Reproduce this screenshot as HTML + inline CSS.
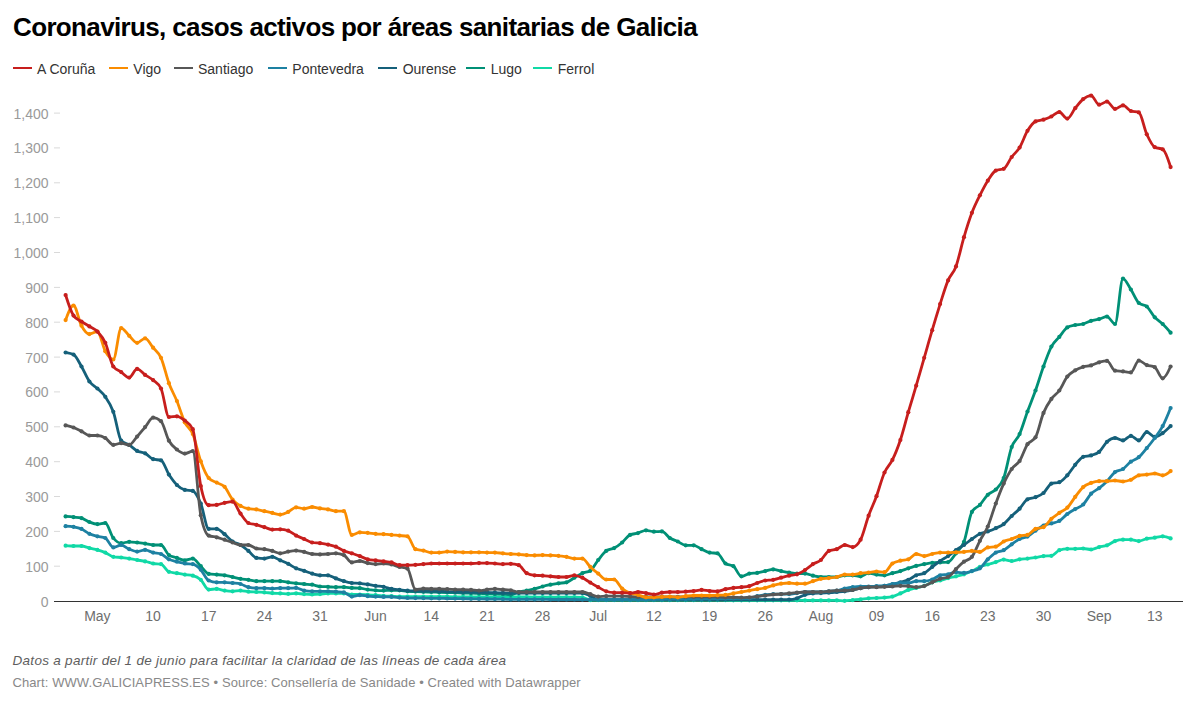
<!DOCTYPE html>
<html><head><meta charset="utf-8"><style>
html,body{margin:0;padding:0;background:#fff;}
body{width:1199px;height:709px;position:relative;overflow:hidden;font-family:"Liberation Sans",sans-serif;}
.title{position:absolute;left:13px;top:12px;font-size:26px;font-weight:bold;color:#000;letter-spacing:-0.64px;white-space:nowrap;line-height:30px;}
.lt{position:absolute;top:60.7px;font-size:14px;color:#333;white-space:nowrap;line-height:16px;}
.note{position:absolute;left:12.5px;top:653px;font-size:13.5px;font-style:italic;color:#5e5e5e;white-space:nowrap;line-height:16px;letter-spacing:0.29px;}
.src{position:absolute;left:12.5px;top:675.2px;font-size:13px;color:#888;white-space:nowrap;line-height:16px;letter-spacing:0.09px;}
svg{position:absolute;left:0;top:0;}
</style></head><body>
<div class="title">Coronavirus, casos activos por áreas sanitarias de Galicia</div>
<div style="position:absolute;left:12.5px;top:66.5px;width:19px;height:2.1px;background:#c71e1d"></div><div class="lt" style="left:37px">A Coruña</div><div style="position:absolute;left:109px;top:66.5px;width:19px;height:2.1px;background:#fa8c00"></div><div class="lt" style="left:133.3px">Vigo</div><div style="position:absolute;left:174px;top:66.5px;width:19px;height:2.1px;background:#575757"></div><div class="lt" style="left:198px">Santiago</div><div style="position:absolute;left:267.7px;top:66.5px;width:19px;height:2.1px;background:#1d81a2"></div><div class="lt" style="left:292.3px">Pontevedra</div><div style="position:absolute;left:377.7px;top:66.5px;width:19px;height:2.1px;background:#15607a"></div><div class="lt" style="left:402.7px">Ourense</div><div style="position:absolute;left:466px;top:66.5px;width:19px;height:2.1px;background:#009076"></div><div class="lt" style="left:490.7px">Lugo</div><div style="position:absolute;left:533.3px;top:66.5px;width:19px;height:2.1px;background:#10d9a6"></div><div class="lt" style="left:557.7px">Ferrol</div>
<svg width="1199" height="709" viewBox="0 0 1199 709">
<g font-family="Liberation Sans" font-size="14" fill="#9a9a9a"><text x="48.5" y="606.5" text-anchor="end">0</text><text x="48.5" y="571.6" text-anchor="end">100</text><text x="48.5" y="536.8" text-anchor="end">200</text><text x="48.5" y="501.9" text-anchor="end">300</text><text x="48.5" y="467.1" text-anchor="end">400</text><text x="48.5" y="432.2" text-anchor="end">500</text><text x="48.5" y="397.3" text-anchor="end">600</text><text x="48.5" y="362.5" text-anchor="end">700</text><text x="48.5" y="327.6" text-anchor="end">800</text><text x="48.5" y="292.8" text-anchor="end">900</text><text x="48.5" y="257.9" text-anchor="end">1,000</text><text x="48.5" y="223.0" text-anchor="end">1,100</text><text x="48.5" y="188.2" text-anchor="end">1,200</text><text x="48.5" y="153.3" text-anchor="end">1,300</text><text x="48.5" y="118.5" text-anchor="end">1,400</text></g>
<g stroke="#d9d9d9" stroke-width="1"><line x1="54" x2="60" y1="566.2" y2="566.2" /><line x1="54" x2="60" y1="531.4" y2="531.4" /><line x1="54" x2="60" y1="496.5" y2="496.5" /><line x1="54" x2="60" y1="461.7" y2="461.7" /><line x1="54" x2="60" y1="426.8" y2="426.8" /><line x1="54" x2="60" y1="391.9" y2="391.9" /><line x1="54" x2="60" y1="357.1" y2="357.1" /><line x1="54" x2="60" y1="322.2" y2="322.2" /><line x1="54" x2="60" y1="287.4" y2="287.4" /><line x1="54" x2="60" y1="252.5" y2="252.5" /><line x1="54" x2="60" y1="217.6" y2="217.6" /><line x1="54" x2="60" y1="182.8" y2="182.8" /><line x1="54" x2="60" y1="147.9" y2="147.9" /><line x1="54" x2="60" y1="113.1" y2="113.1" /></g>
<line x1="54" x2="1183" y1="601.5" y2="601.5" stroke="#333" stroke-width="1.2"/>
<g font-family="Liberation Sans" font-size="14" fill="#6e6e6e" text-anchor="middle"><text x="97.4" y="621">May</text><text x="153.1" y="621">10</text><text x="208.7" y="621">17</text><text x="264.4" y="621">24</text><text x="320.0" y="621">31</text><text x="375.6" y="621">Jun</text><text x="431.3" y="621">14</text><text x="487.0" y="621">21</text><text x="542.6" y="621">28</text><text x="598.2" y="621">Jul</text><text x="653.9" y="621">12</text><text x="709.6" y="621">19</text><text x="765.2" y="621">26</text><text x="820.9" y="621">Aug</text><text x="876.5" y="621">09</text><text x="932.2" y="621">16</text><text x="987.8" y="621">23</text><text x="1043.5" y="621">30</text><text x="1099.1" y="621">Sep</text><text x="1154.8" y="621">13</text></g>
<g fill="none" stroke-width="2.8" stroke-linejoin="round" stroke-linecap="round"><path d="M65.6,545.7C68.2,545.8,70.9,546.0,73.5,546.0C76.2,546.0,78.8,546.0,81.5,546.0C84.1,546.0,86.8,547.5,89.4,548.1C92.1,548.8,94.7,549.1,97.4,549.9C100.0,550.6,102.7,551.5,105.3,552.6C108.0,553.8,110.6,556.4,113.3,556.8C116.0,557.3,118.6,557.2,121.2,557.5C123.9,557.8,126.5,558.2,129.2,558.6C131.8,559.0,134.5,559.5,137.1,560.0C139.8,560.4,142.4,560.8,145.1,561.4C147.8,561.9,150.4,563.0,153.1,563.5C155.7,563.9,158.3,563.7,161.0,564.1C163.7,564.6,166.3,570.9,168.9,571.8C171.6,572.7,174.2,572.7,176.9,573.2C179.5,573.7,182.2,574.2,184.8,574.6C187.5,575.0,190.2,575.0,192.8,575.7C195.5,576.3,198.1,577.5,200.8,579.8C203.4,582.2,206.0,589.6,208.7,589.6C211.3,589.6,214.0,588.9,216.7,588.9C219.3,588.9,221.9,590.2,224.6,590.6C227.2,591.0,229.9,591.3,232.6,591.3C235.2,591.3,237.8,590.6,240.5,590.6C243.2,590.6,245.8,591.5,248.4,591.7C251.1,591.9,253.7,591.9,256.4,592.0C259.1,592.2,261.7,592.2,264.4,592.4C267.0,592.6,269.7,592.9,272.3,593.1C274.9,593.3,277.6,593.3,280.2,593.4C282.9,593.5,285.6,593.8,288.2,593.8C290.8,593.8,293.5,593.4,296.1,593.4C298.8,593.4,301.4,594.0,304.1,594.1C306.8,594.3,309.4,594.5,312.1,594.5C314.7,594.5,317.4,594.3,320.0,594.1C322.7,594.0,325.3,593.4,328.0,593.4C330.6,593.4,333.2,593.4,335.9,593.4C338.6,593.4,341.2,593.4,343.9,593.4C346.5,593.4,349.1,594.5,351.8,594.5C354.4,594.5,357.1,594.5,359.8,594.5C362.4,594.5,365.1,594.7,367.7,594.8C370.4,594.9,373.0,595.0,375.6,595.2C378.3,595.3,380.9,595.7,383.6,595.9C386.2,596.0,388.9,596.1,391.5,596.2C394.2,596.3,396.8,596.6,399.5,596.6C402.2,596.6,404.8,596.6,407.5,596.6C410.1,596.6,412.8,596.6,415.4,596.6C418.1,596.6,420.7,596.6,423.4,596.6C426.0,596.6,428.6,596.7,431.3,596.7C433.9,596.7,436.6,596.7,439.2,596.7C441.9,596.7,444.6,596.7,447.2,596.7C449.9,596.7,452.5,596.7,455.1,596.8C457.8,596.8,460.4,596.8,463.1,596.8C465.8,596.8,468.4,596.8,471.0,596.8C473.7,596.8,476.3,596.8,479.0,596.9C481.7,596.9,484.3,596.9,487.0,596.9C489.6,596.9,492.2,596.9,494.9,596.9C497.6,596.9,500.2,596.9,502.9,596.9C505.5,597.0,508.1,597.0,510.8,597.0C513.4,597.0,516.1,597.0,518.8,597.0C521.4,597.0,524.1,597.0,526.7,597.0C529.4,597.1,532.0,597.1,534.6,597.1C537.3,597.1,540.0,597.1,542.6,597.1C545.2,597.1,547.9,597.1,550.5,597.1C553.2,597.1,555.9,597.2,558.5,597.2C561.1,597.2,563.8,597.2,566.5,597.2C569.1,597.2,571.8,597.2,574.4,597.2C577.0,597.2,579.7,597.2,582.4,597.3C585.0,597.3,587.7,600.0,590.3,600.1C593.0,600.1,595.6,600.1,598.2,600.1C600.9,600.1,603.6,600.1,606.2,600.1C608.9,600.1,611.5,600.1,614.2,600.1C616.8,600.1,619.5,600.1,622.1,600.1C624.8,600.1,627.4,600.1,630.1,600.1C632.7,600.1,635.4,600.1,638.0,600.1C640.6,600.1,643.3,600.1,646.0,600.1C648.6,600.1,651.3,600.1,653.9,600.1C656.6,600.1,659.2,600.2,661.9,600.2C664.5,600.2,667.2,600.2,669.8,600.2C672.5,600.2,675.1,600.2,677.8,600.2C680.4,600.2,683.1,600.2,685.7,600.2C688.4,600.2,691.0,600.2,693.7,600.2C696.3,600.2,699.0,600.2,701.6,600.2C704.2,600.2,706.9,600.2,709.6,600.2C712.2,600.2,714.9,600.2,717.5,600.2C720.1,600.2,722.8,600.2,725.5,600.2C728.1,600.2,730.8,600.3,733.4,600.3C736.1,600.3,738.7,600.3,741.4,600.3C744.0,600.3,746.7,600.3,749.3,600.3C752.0,600.3,754.6,600.3,757.2,600.3C759.9,600.3,762.6,600.3,765.2,600.3C767.9,600.3,770.5,600.3,773.2,600.3C775.8,600.3,778.5,600.3,781.1,600.3C783.8,600.3,786.4,600.3,789.1,600.3C791.7,600.3,794.4,600.3,797.0,600.3C799.6,600.4,802.3,600.4,805.0,600.4C807.6,600.4,810.3,600.4,812.9,600.4C815.6,600.4,818.2,600.4,820.9,600.4C823.5,600.4,826.2,600.4,828.8,600.4C831.5,600.4,834.1,600.4,836.8,600.4C839.4,600.4,842.1,600.8,844.7,600.8C847.4,600.8,850.0,600.3,852.7,600.1C855.3,599.8,858.0,599.6,860.6,599.4C863.2,599.1,865.9,598.5,868.6,598.3C871.2,598.1,873.9,598.1,876.5,598.0C879.1,597.8,881.8,597.8,884.5,597.6C887.1,597.4,889.8,597.3,892.4,596.6C895.1,595.9,897.7,594.5,900.4,593.4C903.0,592.3,905.7,590.9,908.3,589.9C911.0,589.0,913.6,588.6,916.2,587.9C918.9,587.2,921.6,586.7,924.2,585.8C926.9,584.8,929.5,583.1,932.2,582.3C934.8,581.4,937.5,581.2,940.1,580.5C942.8,579.8,945.4,578.8,948.1,578.1C950.7,577.4,953.4,577.0,956.0,576.3C958.6,575.7,961.3,575.1,964.0,574.3C966.6,573.4,969.3,572.3,971.9,571.1C974.6,569.9,977.2,568.0,979.9,566.9C982.5,565.8,985.2,565.3,987.8,564.5C990.5,563.7,993.1,562.9,995.8,562.1C998.4,561.2,1001.1,559.6,1003.7,559.6C1006.4,559.6,1009.0,561.0,1011.7,561.0C1014.3,561.0,1017.0,559.7,1019.6,559.3C1022.2,558.9,1024.9,558.9,1027.5,558.6C1030.2,558.3,1032.8,557.9,1035.5,557.5C1038.2,557.1,1040.8,556.4,1043.5,556.1C1046.1,555.9,1048.8,556.0,1051.4,555.8C1054.0,555.5,1056.7,551.1,1059.3,550.2C1062.0,549.3,1064.6,548.8,1067.3,548.8C1070.0,548.8,1072.6,548.8,1075.2,548.8C1077.9,548.8,1080.5,548.5,1083.2,548.5C1085.8,548.5,1088.5,549.5,1091.1,549.5C1093.8,549.5,1096.4,547.8,1099.1,547.1C1101.8,546.4,1104.4,546.3,1107.0,545.3C1109.7,544.3,1112.3,542.1,1115.0,541.1C1117.7,540.2,1120.3,539.7,1123.0,539.7C1125.6,539.7,1128.2,539.7,1130.9,539.7C1133.5,539.7,1136.2,541.1,1138.8,541.1C1141.5,541.1,1144.1,539.3,1146.8,538.7C1149.5,538.1,1152.1,538.1,1154.8,537.7C1157.4,537.2,1160.0,536.3,1162.7,536.3C1165.3,536.3,1168.0,537.3,1170.6,538.4" stroke="#10d9a6" /><g stroke="none" fill="#10d9a6"><circle cx="65.6" cy="545.7" r="2.1"/><circle cx="73.5" cy="546.0" r="2.1"/><circle cx="81.5" cy="546.0" r="2.1"/><circle cx="89.4" cy="548.1" r="2.1"/><circle cx="97.4" cy="549.9" r="2.1"/><circle cx="105.3" cy="552.6" r="2.1"/><circle cx="113.3" cy="556.8" r="2.1"/><circle cx="121.2" cy="557.5" r="2.1"/><circle cx="129.2" cy="558.6" r="2.1"/><circle cx="137.1" cy="560.0" r="2.1"/><circle cx="145.1" cy="561.4" r="2.1"/><circle cx="153.1" cy="563.5" r="2.1"/><circle cx="161.0" cy="564.1" r="2.1"/><circle cx="168.9" cy="571.8" r="2.1"/><circle cx="176.9" cy="573.2" r="2.1"/><circle cx="184.8" cy="574.6" r="2.1"/><circle cx="192.8" cy="575.7" r="2.1"/><circle cx="200.8" cy="579.8" r="2.1"/><circle cx="208.7" cy="589.6" r="2.1"/><circle cx="216.7" cy="588.9" r="2.1"/><circle cx="224.6" cy="590.6" r="2.1"/><circle cx="232.6" cy="591.3" r="2.1"/><circle cx="240.5" cy="590.6" r="2.1"/><circle cx="248.4" cy="591.7" r="2.1"/><circle cx="256.4" cy="592.0" r="2.1"/><circle cx="264.4" cy="592.4" r="2.1"/><circle cx="272.3" cy="593.1" r="2.1"/><circle cx="280.2" cy="593.4" r="2.1"/><circle cx="288.2" cy="593.8" r="2.1"/><circle cx="296.1" cy="593.4" r="2.1"/><circle cx="304.1" cy="594.1" r="2.1"/><circle cx="312.1" cy="594.5" r="2.1"/><circle cx="320.0" cy="594.1" r="2.1"/><circle cx="328.0" cy="593.4" r="2.1"/><circle cx="335.9" cy="593.4" r="2.1"/><circle cx="343.9" cy="593.4" r="2.1"/><circle cx="351.8" cy="594.5" r="2.1"/><circle cx="359.8" cy="594.5" r="2.1"/><circle cx="367.7" cy="594.8" r="2.1"/><circle cx="375.6" cy="595.2" r="2.1"/><circle cx="383.6" cy="595.9" r="2.1"/><circle cx="391.5" cy="596.2" r="2.1"/><circle cx="399.5" cy="596.6" r="2.1"/><circle cx="407.5" cy="596.6" r="2.1"/><circle cx="415.4" cy="596.6" r="2.1"/><circle cx="423.4" cy="596.6" r="2.1"/><circle cx="431.3" cy="596.7" r="2.1"/><circle cx="439.2" cy="596.7" r="2.1"/><circle cx="447.2" cy="596.7" r="2.1"/><circle cx="455.1" cy="596.8" r="2.1"/><circle cx="463.1" cy="596.8" r="2.1"/><circle cx="471.0" cy="596.8" r="2.1"/><circle cx="479.0" cy="596.9" r="2.1"/><circle cx="487.0" cy="596.9" r="2.1"/><circle cx="494.9" cy="596.9" r="2.1"/><circle cx="502.9" cy="596.9" r="2.1"/><circle cx="510.8" cy="597.0" r="2.1"/><circle cx="518.8" cy="597.0" r="2.1"/><circle cx="526.7" cy="597.0" r="2.1"/><circle cx="534.6" cy="597.1" r="2.1"/><circle cx="542.6" cy="597.1" r="2.1"/><circle cx="550.5" cy="597.1" r="2.1"/><circle cx="558.5" cy="597.2" r="2.1"/><circle cx="566.5" cy="597.2" r="2.1"/><circle cx="574.4" cy="597.2" r="2.1"/><circle cx="582.4" cy="597.3" r="2.1"/><circle cx="590.3" cy="600.1" r="2.1"/><circle cx="598.2" cy="600.1" r="2.1"/><circle cx="606.2" cy="600.1" r="2.1"/><circle cx="614.2" cy="600.1" r="2.1"/><circle cx="622.1" cy="600.1" r="2.1"/><circle cx="630.1" cy="600.1" r="2.1"/><circle cx="638.0" cy="600.1" r="2.1"/><circle cx="646.0" cy="600.1" r="2.1"/><circle cx="653.9" cy="600.1" r="2.1"/><circle cx="661.9" cy="600.2" r="2.1"/><circle cx="669.8" cy="600.2" r="2.1"/><circle cx="677.8" cy="600.2" r="2.1"/><circle cx="685.7" cy="600.2" r="2.1"/><circle cx="693.7" cy="600.2" r="2.1"/><circle cx="701.6" cy="600.2" r="2.1"/><circle cx="709.6" cy="600.2" r="2.1"/><circle cx="717.5" cy="600.2" r="2.1"/><circle cx="725.5" cy="600.2" r="2.1"/><circle cx="733.4" cy="600.3" r="2.1"/><circle cx="741.4" cy="600.3" r="2.1"/><circle cx="749.3" cy="600.3" r="2.1"/><circle cx="757.2" cy="600.3" r="2.1"/><circle cx="765.2" cy="600.3" r="2.1"/><circle cx="773.2" cy="600.3" r="2.1"/><circle cx="781.1" cy="600.3" r="2.1"/><circle cx="789.1" cy="600.3" r="2.1"/><circle cx="797.0" cy="600.3" r="2.1"/><circle cx="805.0" cy="600.4" r="2.1"/><circle cx="812.9" cy="600.4" r="2.1"/><circle cx="820.9" cy="600.4" r="2.1"/><circle cx="828.8" cy="600.4" r="2.1"/><circle cx="836.8" cy="600.4" r="2.1"/><circle cx="844.7" cy="600.8" r="2.1"/><circle cx="852.7" cy="600.1" r="2.1"/><circle cx="860.6" cy="599.4" r="2.1"/><circle cx="868.6" cy="598.3" r="2.1"/><circle cx="876.5" cy="598.0" r="2.1"/><circle cx="884.5" cy="597.6" r="2.1"/><circle cx="892.4" cy="596.6" r="2.1"/><circle cx="900.4" cy="593.4" r="2.1"/><circle cx="908.3" cy="589.9" r="2.1"/><circle cx="916.2" cy="587.9" r="2.1"/><circle cx="924.2" cy="585.8" r="2.1"/><circle cx="932.2" cy="582.3" r="2.1"/><circle cx="940.1" cy="580.5" r="2.1"/><circle cx="948.1" cy="578.1" r="2.1"/><circle cx="956.0" cy="576.3" r="2.1"/><circle cx="964.0" cy="574.3" r="2.1"/><circle cx="971.9" cy="571.1" r="2.1"/><circle cx="979.9" cy="566.9" r="2.1"/><circle cx="987.8" cy="564.5" r="2.1"/><circle cx="995.8" cy="562.1" r="2.1"/><circle cx="1003.7" cy="559.6" r="2.1"/><circle cx="1011.7" cy="561.0" r="2.1"/><circle cx="1019.6" cy="559.3" r="2.1"/><circle cx="1027.5" cy="558.6" r="2.1"/><circle cx="1035.5" cy="557.5" r="2.1"/><circle cx="1043.5" cy="556.1" r="2.1"/><circle cx="1051.4" cy="555.8" r="2.1"/><circle cx="1059.3" cy="550.2" r="2.1"/><circle cx="1067.3" cy="548.8" r="2.1"/><circle cx="1075.2" cy="548.8" r="2.1"/><circle cx="1083.2" cy="548.5" r="2.1"/><circle cx="1091.1" cy="549.5" r="2.1"/><circle cx="1099.1" cy="547.1" r="2.1"/><circle cx="1107.0" cy="545.3" r="2.1"/><circle cx="1115.0" cy="541.1" r="2.1"/><circle cx="1123.0" cy="539.7" r="2.1"/><circle cx="1130.9" cy="539.7" r="2.1"/><circle cx="1138.8" cy="541.1" r="2.1"/><circle cx="1146.8" cy="538.7" r="2.1"/><circle cx="1154.8" cy="537.7" r="2.1"/><circle cx="1162.7" cy="536.3" r="2.1"/><circle cx="1170.6" cy="538.4" r="2.1"/></g><path d="M65.6,516.4C68.2,516.6,70.9,516.8,73.5,517.1C76.2,517.4,78.8,517.4,81.5,518.1C84.1,518.8,86.8,521.0,89.4,522.0C92.1,523.0,94.7,524.1,97.4,524.1C100.0,524.1,102.7,523.0,105.3,523.0C108.0,523.0,110.6,534.6,113.3,538.0C116.0,541.4,118.6,543.2,121.2,543.2C123.9,543.2,126.5,541.8,129.2,541.8C131.8,541.8,134.5,542.2,137.1,542.5C139.8,542.8,142.4,543.2,145.1,543.6C147.8,544.0,150.4,545.0,153.1,545.0C155.7,545.0,158.3,545.0,161.0,545.0C163.7,545.0,166.3,553.2,168.9,555.1C171.6,556.9,174.2,557.0,176.9,557.9C179.5,558.7,182.2,560.3,184.8,560.3C187.5,560.3,190.2,558.6,192.8,558.6C195.5,558.6,198.1,563.7,200.8,566.2C203.4,568.8,206.0,573.4,208.7,573.9C211.3,574.4,214.0,574.4,216.7,574.6C219.3,574.8,221.9,574.9,224.6,575.3C227.2,575.7,229.9,576.5,232.6,577.0C235.2,577.6,237.8,578.3,240.5,578.8C243.2,579.3,245.8,579.4,248.4,579.8C251.1,580.2,253.7,581.2,256.4,581.2C259.1,581.2,261.7,581.2,264.4,581.2C267.0,581.2,269.7,581.2,272.3,581.2C274.9,581.2,277.6,581.2,280.2,581.2C282.9,581.2,285.6,581.9,288.2,582.3C290.8,582.6,293.5,583.0,296.1,583.3C298.8,583.6,301.4,583.8,304.1,584.0C306.8,584.3,309.4,584.3,312.1,584.7C314.7,585.1,317.4,586.2,320.0,586.5C322.7,586.7,325.3,586.7,328.0,586.8C330.6,586.9,333.2,587.2,335.9,587.2C338.6,587.2,341.2,587.2,343.9,587.2C346.5,587.2,349.1,587.7,351.8,587.9C354.4,588.0,357.1,588.0,359.8,588.2C362.4,588.4,365.1,589.2,367.7,589.6C370.4,589.9,373.0,590.1,375.6,590.3C378.3,590.5,380.9,590.6,383.6,590.6C386.2,590.6,388.9,590.3,391.5,590.3C394.2,590.3,396.8,590.3,399.5,590.3C402.2,590.3,404.8,591.2,407.5,591.3C410.1,591.5,412.8,591.5,415.4,591.6C418.1,591.6,420.7,591.7,423.4,591.8C426.0,591.9,428.6,592.0,431.3,592.0C433.9,592.1,436.6,592.2,439.2,592.3C441.9,592.3,444.6,592.4,447.2,592.5C449.9,592.6,452.5,592.7,455.1,592.7C457.8,592.8,460.4,592.9,463.1,593.0C465.8,593.0,468.4,593.1,471.0,593.2C473.7,593.3,476.3,593.4,479.0,593.4C481.7,593.5,484.3,593.6,487.0,593.7C489.6,593.7,492.2,593.8,494.9,593.9C497.6,594.0,500.2,594.0,502.9,594.1C505.5,594.3,508.1,594.8,510.8,594.8C513.4,594.8,516.1,592.7,518.8,592.0C521.4,591.3,524.1,591.2,526.7,590.6C529.4,590.1,532.0,589.6,534.6,588.9C537.3,588.2,540.0,587.2,542.6,586.5C545.2,585.8,547.9,585.2,550.5,584.7C553.2,584.2,555.9,583.7,558.5,583.3C561.1,582.9,563.8,583.0,566.5,582.3C569.1,581.6,571.8,579.3,574.4,577.7C577.0,576.2,579.7,574.4,582.4,573.2C585.0,572.0,587.7,572.4,590.3,570.8C593.0,569.1,595.6,563.3,598.2,560.0C600.9,556.7,603.6,552.8,606.2,550.9C608.9,549.0,611.5,549.5,614.2,548.1C616.8,546.7,619.5,544.7,622.1,542.5C624.8,540.3,627.4,536.0,630.1,534.9C632.7,533.7,635.4,533.9,638.0,533.1C640.6,532.4,643.3,530.3,646.0,530.3C648.6,530.3,651.3,531.7,653.9,531.7C656.6,531.7,659.2,531.4,661.9,531.4C664.5,531.4,667.2,536.3,669.8,538.0C672.5,539.7,675.1,540.3,677.8,541.5C680.4,542.7,683.1,545.3,685.7,545.3C688.4,545.3,691.0,545.3,693.7,545.3C696.3,545.3,699.0,547.9,701.6,549.2C704.2,550.4,706.9,552.2,709.6,552.6C712.2,553.1,714.9,552.9,717.5,553.3C720.1,553.8,722.8,561.6,725.5,563.5C728.1,565.3,730.8,564.4,733.4,566.2C736.1,568.1,738.7,576.3,741.4,576.3C744.0,576.3,746.7,574.0,749.3,573.6C752.0,573.1,754.6,573.3,757.2,572.9C759.9,572.5,762.6,571.7,765.2,571.1C767.9,570.5,770.5,569.4,773.2,569.4C775.8,569.4,778.5,570.6,781.1,571.1C783.8,571.6,786.4,572.1,789.1,572.5C791.7,572.9,794.4,573.6,797.0,573.6C799.6,573.6,802.3,573.6,805.0,573.6C807.6,573.6,810.3,575.1,812.9,575.7C815.6,576.2,818.2,577.0,820.9,577.0C823.5,577.0,826.2,577.0,828.8,577.0C831.5,577.0,834.1,577.0,836.8,577.0C839.4,577.0,842.1,575.3,844.7,575.3C847.4,575.3,850.0,575.3,852.7,575.3C855.3,575.3,858.0,576.3,860.6,576.3C863.2,576.3,865.9,573.2,868.6,573.2C871.2,573.2,873.9,574.3,876.5,574.6C879.1,575.0,881.8,575.3,884.5,575.3C887.1,575.3,889.8,573.9,892.4,573.2C895.1,572.5,897.7,571.9,900.4,571.1C903.0,570.3,905.7,569.2,908.3,568.3C911.0,567.5,913.6,566.6,916.2,565.9C918.9,565.2,921.6,564.7,924.2,564.1C926.9,563.6,929.5,563.0,932.2,562.8C934.8,562.5,937.5,562.5,940.1,562.4C942.8,562.3,945.4,562.3,948.1,562.1C950.7,561.8,953.4,556.7,956.0,553.3C958.6,550.0,961.3,548.8,964.0,541.8C966.6,534.9,969.3,516.5,971.9,511.9C974.6,507.2,977.2,507.7,979.9,504.9C982.5,502.0,985.2,497.3,987.8,494.8C990.5,492.2,993.1,492.3,995.8,489.5C998.4,486.8,1001.1,485.1,1003.7,478.0C1006.4,471.0,1009.0,454.3,1011.7,447.0C1014.3,439.7,1017.0,440.0,1019.6,434.1C1022.2,428.2,1024.9,418.7,1027.5,411.5C1030.2,404.2,1032.8,398.0,1035.5,390.5C1038.2,383.1,1040.8,373.8,1043.5,366.5C1046.1,359.2,1048.8,351.6,1051.4,346.6C1054.0,341.7,1056.7,340.1,1059.3,336.9C1062.0,333.7,1064.6,329.1,1067.3,327.4C1070.0,325.8,1072.6,325.6,1075.2,325.0C1077.9,324.4,1080.5,324.7,1083.2,324.0C1085.8,323.3,1088.5,321.6,1091.1,320.8C1093.8,320.0,1096.4,319.8,1099.1,319.1C1101.8,318.4,1104.4,316.6,1107.0,316.6C1109.7,316.6,1112.3,324.0,1115.0,324.0C1117.7,324.0,1120.3,278.6,1123.0,278.6C1125.6,278.6,1128.2,285.4,1130.9,289.5C1133.5,293.5,1136.2,300.7,1138.8,303.0C1141.5,305.4,1144.1,304.2,1146.8,306.5C1149.5,308.9,1152.1,314.4,1154.8,317.3C1157.4,320.2,1160.0,321.4,1162.7,324.0C1165.3,326.5,1168.0,329.6,1170.6,332.7" stroke="#009076" /><g stroke="none" fill="#009076"><circle cx="65.6" cy="516.4" r="2.1"/><circle cx="73.5" cy="517.1" r="2.1"/><circle cx="81.5" cy="518.1" r="2.1"/><circle cx="89.4" cy="522.0" r="2.1"/><circle cx="97.4" cy="524.1" r="2.1"/><circle cx="105.3" cy="523.0" r="2.1"/><circle cx="113.3" cy="538.0" r="2.1"/><circle cx="121.2" cy="543.2" r="2.1"/><circle cx="129.2" cy="541.8" r="2.1"/><circle cx="137.1" cy="542.5" r="2.1"/><circle cx="145.1" cy="543.6" r="2.1"/><circle cx="153.1" cy="545.0" r="2.1"/><circle cx="161.0" cy="545.0" r="2.1"/><circle cx="168.9" cy="555.1" r="2.1"/><circle cx="176.9" cy="557.9" r="2.1"/><circle cx="184.8" cy="560.3" r="2.1"/><circle cx="192.8" cy="558.6" r="2.1"/><circle cx="200.8" cy="566.2" r="2.1"/><circle cx="208.7" cy="573.9" r="2.1"/><circle cx="216.7" cy="574.6" r="2.1"/><circle cx="224.6" cy="575.3" r="2.1"/><circle cx="232.6" cy="577.0" r="2.1"/><circle cx="240.5" cy="578.8" r="2.1"/><circle cx="248.4" cy="579.8" r="2.1"/><circle cx="256.4" cy="581.2" r="2.1"/><circle cx="264.4" cy="581.2" r="2.1"/><circle cx="272.3" cy="581.2" r="2.1"/><circle cx="280.2" cy="581.2" r="2.1"/><circle cx="288.2" cy="582.3" r="2.1"/><circle cx="296.1" cy="583.3" r="2.1"/><circle cx="304.1" cy="584.0" r="2.1"/><circle cx="312.1" cy="584.7" r="2.1"/><circle cx="320.0" cy="586.5" r="2.1"/><circle cx="328.0" cy="586.8" r="2.1"/><circle cx="335.9" cy="587.2" r="2.1"/><circle cx="343.9" cy="587.2" r="2.1"/><circle cx="351.8" cy="587.9" r="2.1"/><circle cx="359.8" cy="588.2" r="2.1"/><circle cx="367.7" cy="589.6" r="2.1"/><circle cx="375.6" cy="590.3" r="2.1"/><circle cx="383.6" cy="590.6" r="2.1"/><circle cx="391.5" cy="590.3" r="2.1"/><circle cx="399.5" cy="590.3" r="2.1"/><circle cx="407.5" cy="591.3" r="2.1"/><circle cx="415.4" cy="591.6" r="2.1"/><circle cx="423.4" cy="591.8" r="2.1"/><circle cx="431.3" cy="592.0" r="2.1"/><circle cx="439.2" cy="592.3" r="2.1"/><circle cx="447.2" cy="592.5" r="2.1"/><circle cx="455.1" cy="592.7" r="2.1"/><circle cx="463.1" cy="593.0" r="2.1"/><circle cx="471.0" cy="593.2" r="2.1"/><circle cx="479.0" cy="593.4" r="2.1"/><circle cx="487.0" cy="593.7" r="2.1"/><circle cx="494.9" cy="593.9" r="2.1"/><circle cx="502.9" cy="594.1" r="2.1"/><circle cx="510.8" cy="594.8" r="2.1"/><circle cx="518.8" cy="592.0" r="2.1"/><circle cx="526.7" cy="590.6" r="2.1"/><circle cx="534.6" cy="588.9" r="2.1"/><circle cx="542.6" cy="586.5" r="2.1"/><circle cx="550.5" cy="584.7" r="2.1"/><circle cx="558.5" cy="583.3" r="2.1"/><circle cx="566.5" cy="582.3" r="2.1"/><circle cx="574.4" cy="577.7" r="2.1"/><circle cx="582.4" cy="573.2" r="2.1"/><circle cx="590.3" cy="570.8" r="2.1"/><circle cx="598.2" cy="560.0" r="2.1"/><circle cx="606.2" cy="550.9" r="2.1"/><circle cx="614.2" cy="548.1" r="2.1"/><circle cx="622.1" cy="542.5" r="2.1"/><circle cx="630.1" cy="534.9" r="2.1"/><circle cx="638.0" cy="533.1" r="2.1"/><circle cx="646.0" cy="530.3" r="2.1"/><circle cx="653.9" cy="531.7" r="2.1"/><circle cx="661.9" cy="531.4" r="2.1"/><circle cx="669.8" cy="538.0" r="2.1"/><circle cx="677.8" cy="541.5" r="2.1"/><circle cx="685.7" cy="545.3" r="2.1"/><circle cx="693.7" cy="545.3" r="2.1"/><circle cx="701.6" cy="549.2" r="2.1"/><circle cx="709.6" cy="552.6" r="2.1"/><circle cx="717.5" cy="553.3" r="2.1"/><circle cx="725.5" cy="563.5" r="2.1"/><circle cx="733.4" cy="566.2" r="2.1"/><circle cx="741.4" cy="576.3" r="2.1"/><circle cx="749.3" cy="573.6" r="2.1"/><circle cx="757.2" cy="572.9" r="2.1"/><circle cx="765.2" cy="571.1" r="2.1"/><circle cx="773.2" cy="569.4" r="2.1"/><circle cx="781.1" cy="571.1" r="2.1"/><circle cx="789.1" cy="572.5" r="2.1"/><circle cx="797.0" cy="573.6" r="2.1"/><circle cx="805.0" cy="573.6" r="2.1"/><circle cx="812.9" cy="575.7" r="2.1"/><circle cx="820.9" cy="577.0" r="2.1"/><circle cx="828.8" cy="577.0" r="2.1"/><circle cx="836.8" cy="577.0" r="2.1"/><circle cx="844.7" cy="575.3" r="2.1"/><circle cx="852.7" cy="575.3" r="2.1"/><circle cx="860.6" cy="576.3" r="2.1"/><circle cx="868.6" cy="573.2" r="2.1"/><circle cx="876.5" cy="574.6" r="2.1"/><circle cx="884.5" cy="575.3" r="2.1"/><circle cx="892.4" cy="573.2" r="2.1"/><circle cx="900.4" cy="571.1" r="2.1"/><circle cx="908.3" cy="568.3" r="2.1"/><circle cx="916.2" cy="565.9" r="2.1"/><circle cx="924.2" cy="564.1" r="2.1"/><circle cx="932.2" cy="562.8" r="2.1"/><circle cx="940.1" cy="562.4" r="2.1"/><circle cx="948.1" cy="562.1" r="2.1"/><circle cx="956.0" cy="553.3" r="2.1"/><circle cx="964.0" cy="541.8" r="2.1"/><circle cx="971.9" cy="511.9" r="2.1"/><circle cx="979.9" cy="504.9" r="2.1"/><circle cx="987.8" cy="494.8" r="2.1"/><circle cx="995.8" cy="489.5" r="2.1"/><circle cx="1003.7" cy="478.0" r="2.1"/><circle cx="1011.7" cy="447.0" r="2.1"/><circle cx="1019.6" cy="434.1" r="2.1"/><circle cx="1027.5" cy="411.5" r="2.1"/><circle cx="1035.5" cy="390.5" r="2.1"/><circle cx="1043.5" cy="366.5" r="2.1"/><circle cx="1051.4" cy="346.6" r="2.1"/><circle cx="1059.3" cy="336.9" r="2.1"/><circle cx="1067.3" cy="327.4" r="2.1"/><circle cx="1075.2" cy="325.0" r="2.1"/><circle cx="1083.2" cy="324.0" r="2.1"/><circle cx="1091.1" cy="320.8" r="2.1"/><circle cx="1099.1" cy="319.1" r="2.1"/><circle cx="1107.0" cy="316.6" r="2.1"/><circle cx="1115.0" cy="324.0" r="2.1"/><circle cx="1123.0" cy="278.6" r="2.1"/><circle cx="1130.9" cy="289.5" r="2.1"/><circle cx="1138.8" cy="303.0" r="2.1"/><circle cx="1146.8" cy="306.5" r="2.1"/><circle cx="1154.8" cy="317.3" r="2.1"/><circle cx="1162.7" cy="324.0" r="2.1"/><circle cx="1170.6" cy="332.7" r="2.1"/></g><path d="M65.6,352.5C68.2,352.9,70.9,353.2,73.5,354.6C76.2,356.0,78.8,362.0,81.5,366.5C84.1,371.0,86.8,377.8,89.4,381.5C92.1,385.1,94.7,385.9,97.4,388.5C100.0,391.0,102.7,392.9,105.3,396.8C108.0,400.7,110.6,404.5,113.3,411.8C116.0,419.1,118.6,438.0,121.2,440.7C123.9,443.5,126.5,443.2,129.2,444.9C131.8,446.6,134.5,449.5,137.1,450.9C139.8,452.2,142.4,451.9,145.1,453.3C147.8,454.7,150.4,458.5,153.1,459.2C155.7,459.9,158.3,459.6,161.0,460.3C163.7,461.0,166.3,470.4,168.9,474.6C171.6,478.7,174.2,482.5,176.9,485.0C179.5,487.6,182.2,489.2,184.8,489.9C187.5,490.6,190.2,490.2,192.8,490.9C195.5,491.6,198.1,497.2,200.8,503.5C203.4,509.8,206.0,528.9,208.7,528.9C211.3,528.9,214.0,528.9,216.7,528.9C219.3,528.9,221.9,532.1,224.6,534.2C227.2,536.3,229.9,539.7,232.6,541.5C235.2,543.3,237.8,543.4,240.5,545.0C243.2,546.5,245.8,548.8,248.4,550.9C251.1,553.1,253.7,557.4,256.4,557.9C259.1,558.3,261.7,558.6,264.4,558.6C267.0,558.6,269.7,556.8,272.3,556.8C274.9,556.8,277.6,559.2,280.2,560.3C282.9,561.5,285.6,562.5,288.2,563.8C290.8,565.1,293.5,567.2,296.1,568.3C298.8,569.5,301.4,569.9,304.1,570.8C306.8,571.6,309.4,572.8,312.1,573.6C314.7,574.3,317.4,575.3,320.0,575.3C322.7,575.3,325.3,575.3,328.0,575.3C330.6,575.3,333.2,577.5,335.9,578.4C338.6,579.4,341.2,580.5,343.9,581.2C346.5,582.0,349.1,582.7,351.8,583.0C354.4,583.2,357.1,583.1,359.8,583.3C362.4,583.6,365.1,584.0,367.7,584.4C370.4,584.8,373.0,585.4,375.6,585.8C378.3,586.2,380.9,586.3,383.6,586.8C386.2,587.3,388.9,588.4,391.5,588.9C394.2,589.4,396.8,589.7,399.5,589.9C402.2,590.2,404.8,590.5,407.5,590.6C410.1,590.8,412.8,590.8,415.4,590.8C418.1,590.9,420.7,591.0,423.4,591.0C426.0,591.1,428.6,591.1,431.3,591.2C433.9,591.3,436.6,591.3,439.2,591.4C441.9,591.5,444.6,591.5,447.2,591.6C449.9,591.6,452.5,591.7,455.1,591.8C457.8,591.8,460.4,591.9,463.1,592.0C465.8,592.0,468.4,592.1,471.0,592.1C473.7,592.2,476.3,592.3,479.0,592.3C481.7,592.4,484.3,592.5,487.0,592.5C489.6,592.6,492.2,592.6,494.9,592.7C497.6,592.8,500.2,592.8,502.9,592.9C505.5,593.0,508.1,593.1,510.8,593.1C513.4,593.1,516.1,593.1,518.8,593.1C521.4,593.1,524.1,593.1,526.7,593.1C529.4,593.1,532.0,593.1,534.6,593.1C537.3,593.1,540.0,593.1,542.6,593.1C545.2,593.1,547.9,593.1,550.5,593.1C553.2,593.1,555.9,593.1,558.5,593.1C561.1,593.1,563.8,593.1,566.5,593.1C569.1,593.1,571.8,593.1,574.4,593.1C577.0,593.1,579.7,593.1,582.4,593.1C585.0,593.1,587.7,594.8,590.3,595.9C593.0,597.0,595.6,599.7,598.2,599.7C600.9,599.7,603.6,599.7,606.2,599.7C608.9,599.7,611.5,599.7,614.2,599.7C616.8,599.7,619.5,599.7,622.1,599.7C624.8,599.7,627.4,599.7,630.1,599.7C632.7,599.7,635.4,599.7,638.0,599.7C640.6,599.7,643.3,599.7,646.0,599.7C648.6,599.7,651.3,599.7,653.9,599.7C656.6,599.7,659.2,599.7,661.9,599.7C664.5,599.7,667.2,599.7,669.8,599.7C672.5,599.7,675.1,599.7,677.8,599.7C680.4,599.7,683.1,599.7,685.7,599.7C688.4,599.7,691.0,599.7,693.7,599.7C696.3,599.7,699.0,599.7,701.6,599.7C704.2,599.7,706.9,599.7,709.6,599.7C712.2,599.7,714.9,599.7,717.5,599.7C720.1,599.7,722.8,599.7,725.5,599.7C728.1,599.7,730.8,599.7,733.4,599.7C736.1,599.7,738.7,599.7,741.4,599.7C744.0,599.7,746.7,599.7,749.3,599.7C752.0,599.7,754.6,599.7,757.2,599.7C759.9,599.7,762.6,599.7,765.2,599.7C767.9,599.7,770.5,599.7,773.2,599.7C775.8,599.7,778.5,599.7,781.1,599.7C783.8,599.7,786.4,599.7,789.1,599.7C791.7,599.7,794.4,599.1,797.0,598.3C799.6,597.5,802.3,595.6,805.0,594.8C807.6,594.0,810.3,593.7,812.9,593.4C815.6,593.2,818.2,593.2,820.9,593.1C823.5,593.0,826.2,592.9,828.8,592.7C831.5,592.6,834.1,592.3,836.8,592.0C839.4,591.8,842.1,591.7,844.7,591.3C847.4,591.0,850.0,590.5,852.7,589.9C855.3,589.4,858.0,588.7,860.6,588.2C863.2,587.7,865.9,587.4,868.6,587.2C871.2,586.9,873.9,587.0,876.5,586.8C879.1,586.6,881.8,586.2,884.5,585.8C887.1,585.4,889.8,584.9,892.4,584.4C895.1,583.8,897.7,583.0,900.4,582.3C903.0,581.5,905.7,581.0,908.3,579.8C911.0,578.7,913.6,576.4,916.2,575.3C918.9,574.2,921.6,574.6,924.2,573.2C926.9,571.8,929.5,569.0,932.2,566.9C934.8,564.9,937.5,562.8,940.1,561.0C942.8,559.2,945.4,557.9,948.1,556.1C950.7,554.3,953.4,552.1,956.0,550.2C958.6,548.3,961.3,546.8,964.0,545.0C966.6,543.1,969.3,540.9,971.9,539.0C974.6,537.2,977.2,535.1,979.9,533.8C982.5,532.5,985.2,532.3,987.8,531.4C990.5,530.5,993.1,529.5,995.8,528.2C998.4,527.0,1001.1,526.1,1003.7,524.1C1006.4,522.0,1009.0,518.6,1011.7,516.0C1014.3,513.5,1017.0,511.5,1019.6,508.7C1022.2,505.9,1024.9,500.7,1027.5,499.3C1030.2,497.9,1032.8,498.3,1035.5,497.2C1038.2,496.2,1040.8,495.3,1043.5,493.0C1046.1,490.8,1048.8,484.6,1051.4,483.6C1054.0,482.7,1056.7,483.2,1059.3,482.2C1062.0,481.3,1064.6,478.2,1067.3,475.3C1070.0,472.4,1072.6,467.9,1075.2,464.8C1077.9,461.7,1080.5,457.7,1083.2,456.8C1085.8,455.9,1088.5,456.2,1091.1,455.4C1093.8,454.6,1096.4,454.2,1099.1,451.9C1101.8,449.6,1104.4,444.1,1107.0,441.8C1109.7,439.5,1112.3,438.0,1115.0,438.0C1117.7,438.0,1120.3,440.4,1123.0,440.4C1125.6,440.4,1128.2,435.9,1130.9,435.9C1133.5,435.9,1136.2,440.4,1138.8,440.4C1141.5,440.4,1144.1,432.0,1146.8,432.0C1149.5,432.0,1152.1,436.9,1154.8,436.9C1157.4,436.9,1160.0,434.9,1162.7,433.1C1165.3,431.3,1168.0,428.7,1170.6,426.1" stroke="#15607a" /><g stroke="none" fill="#15607a"><circle cx="65.6" cy="352.5" r="2.1"/><circle cx="73.5" cy="354.6" r="2.1"/><circle cx="81.5" cy="366.5" r="2.1"/><circle cx="89.4" cy="381.5" r="2.1"/><circle cx="97.4" cy="388.5" r="2.1"/><circle cx="105.3" cy="396.8" r="2.1"/><circle cx="113.3" cy="411.8" r="2.1"/><circle cx="121.2" cy="440.7" r="2.1"/><circle cx="129.2" cy="444.9" r="2.1"/><circle cx="137.1" cy="450.9" r="2.1"/><circle cx="145.1" cy="453.3" r="2.1"/><circle cx="153.1" cy="459.2" r="2.1"/><circle cx="161.0" cy="460.3" r="2.1"/><circle cx="168.9" cy="474.6" r="2.1"/><circle cx="176.9" cy="485.0" r="2.1"/><circle cx="184.8" cy="489.9" r="2.1"/><circle cx="192.8" cy="490.9" r="2.1"/><circle cx="200.8" cy="503.5" r="2.1"/><circle cx="208.7" cy="528.9" r="2.1"/><circle cx="216.7" cy="528.9" r="2.1"/><circle cx="224.6" cy="534.2" r="2.1"/><circle cx="232.6" cy="541.5" r="2.1"/><circle cx="240.5" cy="545.0" r="2.1"/><circle cx="248.4" cy="550.9" r="2.1"/><circle cx="256.4" cy="557.9" r="2.1"/><circle cx="264.4" cy="558.6" r="2.1"/><circle cx="272.3" cy="556.8" r="2.1"/><circle cx="280.2" cy="560.3" r="2.1"/><circle cx="288.2" cy="563.8" r="2.1"/><circle cx="296.1" cy="568.3" r="2.1"/><circle cx="304.1" cy="570.8" r="2.1"/><circle cx="312.1" cy="573.6" r="2.1"/><circle cx="320.0" cy="575.3" r="2.1"/><circle cx="328.0" cy="575.3" r="2.1"/><circle cx="335.9" cy="578.4" r="2.1"/><circle cx="343.9" cy="581.2" r="2.1"/><circle cx="351.8" cy="583.0" r="2.1"/><circle cx="359.8" cy="583.3" r="2.1"/><circle cx="367.7" cy="584.4" r="2.1"/><circle cx="375.6" cy="585.8" r="2.1"/><circle cx="383.6" cy="586.8" r="2.1"/><circle cx="391.5" cy="588.9" r="2.1"/><circle cx="399.5" cy="589.9" r="2.1"/><circle cx="407.5" cy="590.6" r="2.1"/><circle cx="415.4" cy="590.8" r="2.1"/><circle cx="423.4" cy="591.0" r="2.1"/><circle cx="431.3" cy="591.2" r="2.1"/><circle cx="439.2" cy="591.4" r="2.1"/><circle cx="447.2" cy="591.6" r="2.1"/><circle cx="455.1" cy="591.8" r="2.1"/><circle cx="463.1" cy="592.0" r="2.1"/><circle cx="471.0" cy="592.1" r="2.1"/><circle cx="479.0" cy="592.3" r="2.1"/><circle cx="487.0" cy="592.5" r="2.1"/><circle cx="494.9" cy="592.7" r="2.1"/><circle cx="502.9" cy="592.9" r="2.1"/><circle cx="510.8" cy="593.1" r="2.1"/><circle cx="518.8" cy="593.1" r="2.1"/><circle cx="526.7" cy="593.1" r="2.1"/><circle cx="534.6" cy="593.1" r="2.1"/><circle cx="542.6" cy="593.1" r="2.1"/><circle cx="550.5" cy="593.1" r="2.1"/><circle cx="558.5" cy="593.1" r="2.1"/><circle cx="566.5" cy="593.1" r="2.1"/><circle cx="574.4" cy="593.1" r="2.1"/><circle cx="582.4" cy="593.1" r="2.1"/><circle cx="590.3" cy="595.9" r="2.1"/><circle cx="598.2" cy="599.7" r="2.1"/><circle cx="606.2" cy="599.7" r="2.1"/><circle cx="614.2" cy="599.7" r="2.1"/><circle cx="622.1" cy="599.7" r="2.1"/><circle cx="630.1" cy="599.7" r="2.1"/><circle cx="638.0" cy="599.7" r="2.1"/><circle cx="646.0" cy="599.7" r="2.1"/><circle cx="653.9" cy="599.7" r="2.1"/><circle cx="661.9" cy="599.7" r="2.1"/><circle cx="669.8" cy="599.7" r="2.1"/><circle cx="677.8" cy="599.7" r="2.1"/><circle cx="685.7" cy="599.7" r="2.1"/><circle cx="693.7" cy="599.7" r="2.1"/><circle cx="701.6" cy="599.7" r="2.1"/><circle cx="709.6" cy="599.7" r="2.1"/><circle cx="717.5" cy="599.7" r="2.1"/><circle cx="725.5" cy="599.7" r="2.1"/><circle cx="733.4" cy="599.7" r="2.1"/><circle cx="741.4" cy="599.7" r="2.1"/><circle cx="749.3" cy="599.7" r="2.1"/><circle cx="757.2" cy="599.7" r="2.1"/><circle cx="765.2" cy="599.7" r="2.1"/><circle cx="773.2" cy="599.7" r="2.1"/><circle cx="781.1" cy="599.7" r="2.1"/><circle cx="789.1" cy="599.7" r="2.1"/><circle cx="797.0" cy="598.3" r="2.1"/><circle cx="805.0" cy="594.8" r="2.1"/><circle cx="812.9" cy="593.4" r="2.1"/><circle cx="820.9" cy="593.1" r="2.1"/><circle cx="828.8" cy="592.7" r="2.1"/><circle cx="836.8" cy="592.0" r="2.1"/><circle cx="844.7" cy="591.3" r="2.1"/><circle cx="852.7" cy="589.9" r="2.1"/><circle cx="860.6" cy="588.2" r="2.1"/><circle cx="868.6" cy="587.2" r="2.1"/><circle cx="876.5" cy="586.8" r="2.1"/><circle cx="884.5" cy="585.8" r="2.1"/><circle cx="892.4" cy="584.4" r="2.1"/><circle cx="900.4" cy="582.3" r="2.1"/><circle cx="908.3" cy="579.8" r="2.1"/><circle cx="916.2" cy="575.3" r="2.1"/><circle cx="924.2" cy="573.2" r="2.1"/><circle cx="932.2" cy="566.9" r="2.1"/><circle cx="940.1" cy="561.0" r="2.1"/><circle cx="948.1" cy="556.1" r="2.1"/><circle cx="956.0" cy="550.2" r="2.1"/><circle cx="964.0" cy="545.0" r="2.1"/><circle cx="971.9" cy="539.0" r="2.1"/><circle cx="979.9" cy="533.8" r="2.1"/><circle cx="987.8" cy="531.4" r="2.1"/><circle cx="995.8" cy="528.2" r="2.1"/><circle cx="1003.7" cy="524.1" r="2.1"/><circle cx="1011.7" cy="516.0" r="2.1"/><circle cx="1019.6" cy="508.7" r="2.1"/><circle cx="1027.5" cy="499.3" r="2.1"/><circle cx="1035.5" cy="497.2" r="2.1"/><circle cx="1043.5" cy="493.0" r="2.1"/><circle cx="1051.4" cy="483.6" r="2.1"/><circle cx="1059.3" cy="482.2" r="2.1"/><circle cx="1067.3" cy="475.3" r="2.1"/><circle cx="1075.2" cy="464.8" r="2.1"/><circle cx="1083.2" cy="456.8" r="2.1"/><circle cx="1091.1" cy="455.4" r="2.1"/><circle cx="1099.1" cy="451.9" r="2.1"/><circle cx="1107.0" cy="441.8" r="2.1"/><circle cx="1115.0" cy="438.0" r="2.1"/><circle cx="1123.0" cy="440.4" r="2.1"/><circle cx="1130.9" cy="435.9" r="2.1"/><circle cx="1138.8" cy="440.4" r="2.1"/><circle cx="1146.8" cy="432.0" r="2.1"/><circle cx="1154.8" cy="436.9" r="2.1"/><circle cx="1162.7" cy="433.1" r="2.1"/><circle cx="1170.6" cy="426.1" r="2.1"/></g><path d="M65.6,526.2C68.2,526.3,70.9,526.4,73.5,526.8C76.2,527.3,78.8,527.8,81.5,528.9C84.1,530.1,86.8,532.6,89.4,533.8C92.1,535.0,94.7,535.6,97.4,536.3C100.0,537.0,102.7,536.8,105.3,538.0C108.0,539.2,110.6,547.4,113.3,547.4C116.0,547.4,118.6,545.0,121.2,545.0C123.9,545.0,126.5,548.1,129.2,549.2C131.8,550.3,134.5,551.6,137.1,551.6C139.8,551.6,142.4,549.9,145.1,549.9C147.8,549.9,150.4,551.9,153.1,552.6C155.7,553.3,158.3,553.1,161.0,554.0C163.7,555.0,166.3,558.0,168.9,559.3C171.6,560.5,174.2,561.0,176.9,561.7C179.5,562.4,182.2,563.0,184.8,563.5C187.5,563.9,190.2,563.7,192.8,564.1C195.5,564.6,198.1,567.0,200.8,569.7C203.4,572.5,206.0,579.4,208.7,580.5C211.3,581.7,214.0,582.3,216.7,582.3C219.3,582.3,221.9,582.3,224.6,582.3C227.2,582.3,229.9,582.7,232.6,583.0C235.2,583.3,237.8,583.3,240.5,584.0C243.2,584.7,245.8,586.5,248.4,587.2C251.1,587.9,253.7,588.2,256.4,588.2C259.1,588.2,261.7,588.2,264.4,588.2C267.0,588.2,269.7,588.6,272.3,588.6C274.9,588.6,277.6,588.2,280.2,588.2C282.9,588.2,285.6,588.2,288.2,588.2C290.8,588.2,293.5,587.9,296.1,587.9C298.8,587.9,301.4,590.2,304.1,590.6C306.8,591.1,309.4,591.3,312.1,591.3C314.7,591.3,317.4,591.3,320.0,591.3C322.7,591.3,325.3,591.3,328.0,591.3C330.6,591.3,333.2,591.5,335.9,591.7C338.6,591.9,341.2,591.9,343.9,592.4C346.5,592.8,349.1,596.6,351.8,596.6C354.4,596.6,357.1,595.2,359.8,595.2C362.4,595.2,365.1,596.0,367.7,596.2C370.4,596.5,373.0,596.5,375.6,596.6C378.3,596.7,380.9,596.9,383.6,596.9C386.2,596.9,388.9,596.9,391.5,596.9C394.2,596.9,396.8,597.4,399.5,597.6C402.2,597.8,404.8,597.9,407.5,598.0C410.1,598.0,412.8,598.0,415.4,598.1C418.1,598.1,420.7,598.1,423.4,598.2C426.0,598.2,428.6,598.2,431.3,598.3C433.9,598.3,436.6,598.4,439.2,598.4C441.9,598.4,444.6,598.5,447.2,598.5C449.9,598.5,452.5,598.6,455.1,598.6C457.8,598.6,460.4,598.7,463.1,598.7C465.8,598.7,468.4,598.8,471.0,598.8C473.7,598.9,476.3,598.9,479.0,598.9C481.7,599.0,484.3,599.0,487.0,599.0C489.6,599.1,492.2,599.1,494.9,599.1C497.6,599.2,500.2,599.2,502.9,599.2C505.5,599.3,508.1,599.4,510.8,599.4C513.4,599.4,516.1,599.4,518.8,599.4C521.4,599.4,524.1,599.4,526.7,599.4C529.4,599.4,532.0,599.4,534.6,599.4C537.3,599.4,540.0,599.4,542.6,599.4C545.2,599.4,547.9,599.5,550.5,599.5C553.2,599.5,555.9,599.5,558.5,599.5C561.1,599.5,563.8,599.5,566.5,599.5C569.1,599.5,571.8,599.5,574.4,599.5C577.0,599.6,579.7,599.6,582.4,599.6C585.0,599.6,587.7,599.6,590.3,599.6C593.0,599.6,595.6,599.6,598.2,599.6C600.9,599.6,603.6,599.6,606.2,599.7C608.9,599.7,611.5,599.7,614.2,599.7C616.8,599.7,619.5,599.7,622.1,599.7C624.8,599.7,627.4,599.7,630.1,599.7C632.7,599.7,635.4,599.6,638.0,599.6C640.6,599.6,643.3,599.6,646.0,599.5C648.6,599.5,651.3,599.5,653.9,599.4C656.6,599.4,659.2,599.4,661.9,599.3C664.5,599.3,667.2,599.3,669.8,599.2C672.5,599.2,675.1,599.2,677.8,599.1C680.4,599.1,683.1,599.1,685.7,599.1C688.4,599.0,691.0,599.0,693.7,599.0C696.3,598.9,699.0,598.9,701.6,598.9C704.2,598.8,706.9,598.8,709.6,598.8C712.2,598.7,714.9,598.7,717.5,598.7C720.1,598.7,722.8,598.6,725.5,598.6C728.1,598.6,730.8,598.5,733.4,598.5C736.1,598.5,738.7,598.4,741.4,598.4C744.0,598.4,746.7,598.4,749.3,598.3C752.0,598.2,754.6,596.8,757.2,596.2C759.9,595.6,762.6,595.2,765.2,594.8C767.9,594.5,770.5,594.1,773.2,594.1C775.8,594.1,778.5,594.1,781.1,594.1C783.8,594.1,786.4,594.1,789.1,594.1C791.7,594.1,794.4,593.4,797.0,593.1C799.6,592.7,802.3,592.0,805.0,592.0C807.6,592.0,810.3,592.0,812.9,592.0C815.6,592.0,818.2,592.0,820.9,592.0C823.5,592.0,826.2,591.6,828.8,591.3C831.5,591.1,834.1,591.1,836.8,590.6C839.4,590.2,842.1,589.1,844.7,588.6C847.4,588.0,850.0,587.5,852.7,587.2C855.3,586.8,858.0,586.5,860.6,586.5C863.2,586.5,865.9,586.5,868.6,586.5C871.2,586.5,873.9,586.2,876.5,586.1C879.1,586.0,881.8,586.0,884.5,585.8C887.1,585.5,889.8,584.5,892.4,584.0C895.1,583.6,897.7,583.0,900.4,583.0C903.0,583.0,905.7,583.0,908.3,583.0C911.0,583.0,913.6,581.2,916.2,581.2C918.9,581.2,921.6,581.2,924.2,581.2C926.9,581.2,929.5,580.5,932.2,579.5C934.8,578.5,937.5,576.0,940.1,575.3C942.8,574.6,945.4,574.8,948.1,574.3C950.7,573.7,953.4,572.2,956.0,572.2C958.6,572.2,961.3,572.9,964.0,572.9C966.6,572.9,969.3,571.9,971.9,571.1C974.6,570.4,977.2,570.2,979.9,568.3C982.5,566.5,985.2,561.9,987.8,559.3C990.5,556.7,993.1,554.2,995.8,552.6C998.4,551.1,1001.1,551.6,1003.7,550.2C1006.4,548.8,1009.0,546.1,1011.7,544.3C1014.3,542.4,1017.0,540.3,1019.6,539.0C1022.2,537.8,1024.9,538.0,1027.5,536.6C1030.2,535.2,1032.8,532.5,1035.5,530.7C1038.2,528.8,1040.8,526.7,1043.5,525.5C1046.1,524.2,1048.8,524.1,1051.4,523.4C1054.0,522.6,1056.7,522.5,1059.3,520.9C1062.0,519.4,1064.6,515.9,1067.3,514.0C1070.0,512.0,1072.6,510.6,1075.2,509.1C1077.9,507.5,1080.5,507.1,1083.2,504.5C1085.8,502.0,1088.5,496.5,1091.1,493.7C1093.8,491.0,1096.4,490.2,1099.1,488.2C1101.8,486.1,1104.4,483.9,1107.0,481.2C1109.7,478.5,1112.3,474.2,1115.0,472.1C1117.7,470.1,1120.3,470.7,1123.0,469.0C1125.6,467.2,1128.2,463.6,1130.9,461.7C1133.5,459.7,1136.2,459.4,1138.8,457.1C1141.5,454.9,1144.1,451.3,1146.8,448.1C1149.5,444.9,1152.1,441.6,1154.8,438.0C1157.4,434.3,1160.0,431.1,1162.7,426.1C1165.3,421.1,1168.0,414.5,1170.6,408.0" stroke="#1d81a2" /><g stroke="none" fill="#1d81a2"><circle cx="65.6" cy="526.2" r="2.1"/><circle cx="73.5" cy="526.8" r="2.1"/><circle cx="81.5" cy="528.9" r="2.1"/><circle cx="89.4" cy="533.8" r="2.1"/><circle cx="97.4" cy="536.3" r="2.1"/><circle cx="105.3" cy="538.0" r="2.1"/><circle cx="113.3" cy="547.4" r="2.1"/><circle cx="121.2" cy="545.0" r="2.1"/><circle cx="129.2" cy="549.2" r="2.1"/><circle cx="137.1" cy="551.6" r="2.1"/><circle cx="145.1" cy="549.9" r="2.1"/><circle cx="153.1" cy="552.6" r="2.1"/><circle cx="161.0" cy="554.0" r="2.1"/><circle cx="168.9" cy="559.3" r="2.1"/><circle cx="176.9" cy="561.7" r="2.1"/><circle cx="184.8" cy="563.5" r="2.1"/><circle cx="192.8" cy="564.1" r="2.1"/><circle cx="200.8" cy="569.7" r="2.1"/><circle cx="208.7" cy="580.5" r="2.1"/><circle cx="216.7" cy="582.3" r="2.1"/><circle cx="224.6" cy="582.3" r="2.1"/><circle cx="232.6" cy="583.0" r="2.1"/><circle cx="240.5" cy="584.0" r="2.1"/><circle cx="248.4" cy="587.2" r="2.1"/><circle cx="256.4" cy="588.2" r="2.1"/><circle cx="264.4" cy="588.2" r="2.1"/><circle cx="272.3" cy="588.6" r="2.1"/><circle cx="280.2" cy="588.2" r="2.1"/><circle cx="288.2" cy="588.2" r="2.1"/><circle cx="296.1" cy="587.9" r="2.1"/><circle cx="304.1" cy="590.6" r="2.1"/><circle cx="312.1" cy="591.3" r="2.1"/><circle cx="320.0" cy="591.3" r="2.1"/><circle cx="328.0" cy="591.3" r="2.1"/><circle cx="335.9" cy="591.7" r="2.1"/><circle cx="343.9" cy="592.4" r="2.1"/><circle cx="351.8" cy="596.6" r="2.1"/><circle cx="359.8" cy="595.2" r="2.1"/><circle cx="367.7" cy="596.2" r="2.1"/><circle cx="375.6" cy="596.6" r="2.1"/><circle cx="383.6" cy="596.9" r="2.1"/><circle cx="391.5" cy="596.9" r="2.1"/><circle cx="399.5" cy="597.6" r="2.1"/><circle cx="407.5" cy="598.0" r="2.1"/><circle cx="415.4" cy="598.1" r="2.1"/><circle cx="423.4" cy="598.2" r="2.1"/><circle cx="431.3" cy="598.3" r="2.1"/><circle cx="439.2" cy="598.4" r="2.1"/><circle cx="447.2" cy="598.5" r="2.1"/><circle cx="455.1" cy="598.6" r="2.1"/><circle cx="463.1" cy="598.7" r="2.1"/><circle cx="471.0" cy="598.8" r="2.1"/><circle cx="479.0" cy="598.9" r="2.1"/><circle cx="487.0" cy="599.0" r="2.1"/><circle cx="494.9" cy="599.1" r="2.1"/><circle cx="502.9" cy="599.2" r="2.1"/><circle cx="510.8" cy="599.4" r="2.1"/><circle cx="518.8" cy="599.4" r="2.1"/><circle cx="526.7" cy="599.4" r="2.1"/><circle cx="534.6" cy="599.4" r="2.1"/><circle cx="542.6" cy="599.4" r="2.1"/><circle cx="550.5" cy="599.5" r="2.1"/><circle cx="558.5" cy="599.5" r="2.1"/><circle cx="566.5" cy="599.5" r="2.1"/><circle cx="574.4" cy="599.5" r="2.1"/><circle cx="582.4" cy="599.6" r="2.1"/><circle cx="590.3" cy="599.6" r="2.1"/><circle cx="598.2" cy="599.6" r="2.1"/><circle cx="606.2" cy="599.7" r="2.1"/><circle cx="614.2" cy="599.7" r="2.1"/><circle cx="622.1" cy="599.7" r="2.1"/><circle cx="630.1" cy="599.7" r="2.1"/><circle cx="638.0" cy="599.6" r="2.1"/><circle cx="646.0" cy="599.5" r="2.1"/><circle cx="653.9" cy="599.4" r="2.1"/><circle cx="661.9" cy="599.3" r="2.1"/><circle cx="669.8" cy="599.2" r="2.1"/><circle cx="677.8" cy="599.1" r="2.1"/><circle cx="685.7" cy="599.1" r="2.1"/><circle cx="693.7" cy="599.0" r="2.1"/><circle cx="701.6" cy="598.9" r="2.1"/><circle cx="709.6" cy="598.8" r="2.1"/><circle cx="717.5" cy="598.7" r="2.1"/><circle cx="725.5" cy="598.6" r="2.1"/><circle cx="733.4" cy="598.5" r="2.1"/><circle cx="741.4" cy="598.4" r="2.1"/><circle cx="749.3" cy="598.3" r="2.1"/><circle cx="757.2" cy="596.2" r="2.1"/><circle cx="765.2" cy="594.8" r="2.1"/><circle cx="773.2" cy="594.1" r="2.1"/><circle cx="781.1" cy="594.1" r="2.1"/><circle cx="789.1" cy="594.1" r="2.1"/><circle cx="797.0" cy="593.1" r="2.1"/><circle cx="805.0" cy="592.0" r="2.1"/><circle cx="812.9" cy="592.0" r="2.1"/><circle cx="820.9" cy="592.0" r="2.1"/><circle cx="828.8" cy="591.3" r="2.1"/><circle cx="836.8" cy="590.6" r="2.1"/><circle cx="844.7" cy="588.6" r="2.1"/><circle cx="852.7" cy="587.2" r="2.1"/><circle cx="860.6" cy="586.5" r="2.1"/><circle cx="868.6" cy="586.5" r="2.1"/><circle cx="876.5" cy="586.1" r="2.1"/><circle cx="884.5" cy="585.8" r="2.1"/><circle cx="892.4" cy="584.0" r="2.1"/><circle cx="900.4" cy="583.0" r="2.1"/><circle cx="908.3" cy="583.0" r="2.1"/><circle cx="916.2" cy="581.2" r="2.1"/><circle cx="924.2" cy="581.2" r="2.1"/><circle cx="932.2" cy="579.5" r="2.1"/><circle cx="940.1" cy="575.3" r="2.1"/><circle cx="948.1" cy="574.3" r="2.1"/><circle cx="956.0" cy="572.2" r="2.1"/><circle cx="964.0" cy="572.9" r="2.1"/><circle cx="971.9" cy="571.1" r="2.1"/><circle cx="979.9" cy="568.3" r="2.1"/><circle cx="987.8" cy="559.3" r="2.1"/><circle cx="995.8" cy="552.6" r="2.1"/><circle cx="1003.7" cy="550.2" r="2.1"/><circle cx="1011.7" cy="544.3" r="2.1"/><circle cx="1019.6" cy="539.0" r="2.1"/><circle cx="1027.5" cy="536.6" r="2.1"/><circle cx="1035.5" cy="530.7" r="2.1"/><circle cx="1043.5" cy="525.5" r="2.1"/><circle cx="1051.4" cy="523.4" r="2.1"/><circle cx="1059.3" cy="520.9" r="2.1"/><circle cx="1067.3" cy="514.0" r="2.1"/><circle cx="1075.2" cy="509.1" r="2.1"/><circle cx="1083.2" cy="504.5" r="2.1"/><circle cx="1091.1" cy="493.7" r="2.1"/><circle cx="1099.1" cy="488.2" r="2.1"/><circle cx="1107.0" cy="481.2" r="2.1"/><circle cx="1115.0" cy="472.1" r="2.1"/><circle cx="1123.0" cy="469.0" r="2.1"/><circle cx="1130.9" cy="461.7" r="2.1"/><circle cx="1138.8" cy="457.1" r="2.1"/><circle cx="1146.8" cy="448.1" r="2.1"/><circle cx="1154.8" cy="438.0" r="2.1"/><circle cx="1162.7" cy="426.1" r="2.1"/><circle cx="1170.6" cy="408.0" r="2.1"/></g><path d="M65.6,425.4C68.2,426.0,70.9,426.5,73.5,427.5C76.2,428.5,78.8,430.0,81.5,431.3C84.1,432.7,86.8,435.5,89.4,435.5C92.1,435.5,94.7,435.5,97.4,435.5C100.0,435.5,102.7,436.4,105.3,438.0C108.0,439.5,110.6,444.9,113.3,444.9C116.0,444.9,118.6,443.2,121.2,443.2C123.9,443.2,126.5,444.9,129.2,444.9C131.8,444.9,134.5,439.5,137.1,436.6C139.8,433.6,142.4,430.3,145.1,427.1C147.8,424.0,150.4,417.7,153.1,417.7C155.7,417.7,158.3,418.9,161.0,421.2C163.7,423.5,166.3,436.0,168.9,440.7C171.6,445.5,174.2,447.3,176.9,449.5C179.5,451.6,182.2,453.6,184.8,453.6C187.5,453.6,190.2,451.2,192.8,451.2C195.5,451.2,198.1,501.9,200.8,515.3C203.4,528.8,206.0,534.4,208.7,535.6C211.3,536.7,214.0,536.6,216.7,537.3C219.3,538.0,221.9,538.9,224.6,539.7C227.2,540.6,229.9,541.7,232.6,542.5C235.2,543.4,237.8,545.0,240.5,545.0C243.2,545.0,245.8,545.0,248.4,545.0C251.1,545.0,253.7,548.0,256.4,548.5C259.1,548.9,261.7,548.8,264.4,549.2C267.0,549.6,269.7,550.2,272.3,550.9C274.9,551.6,277.6,553.3,280.2,553.3C282.9,553.3,285.6,552.1,288.2,551.6C290.8,551.1,293.5,550.6,296.1,550.6C298.8,550.6,301.4,551.4,304.1,551.9C306.8,552.5,309.4,553.8,312.1,554.0C314.7,554.3,317.4,554.4,320.0,554.4C322.7,554.4,325.3,554.2,328.0,554.0C330.6,553.9,333.2,553.3,335.9,553.3C338.6,553.3,341.2,553.9,343.9,555.1C346.5,556.2,349.1,562.4,351.8,562.4C354.4,562.4,357.1,561.0,359.8,561.0C362.4,561.0,365.1,562.6,367.7,563.1C370.4,563.6,373.0,564.1,375.6,564.1C378.3,564.1,380.9,563.5,383.6,563.5C386.2,563.5,388.9,563.9,391.5,564.5C394.2,565.1,396.8,566.2,399.5,566.9C402.2,567.6,404.8,567.5,407.5,568.7C410.1,569.8,412.8,589.6,415.4,589.6C418.1,589.6,420.7,588.6,423.4,588.6C426.0,588.6,428.6,588.9,431.3,588.9C433.9,588.9,436.6,588.9,439.2,588.9C441.9,588.9,444.6,589.1,447.2,589.2C449.9,589.4,452.5,589.6,455.1,589.6C457.8,589.6,460.4,589.6,463.1,589.6C465.8,589.6,468.4,589.8,471.0,589.9C473.7,590.1,476.3,590.6,479.0,590.6C481.7,590.6,484.3,589.9,487.0,589.6C489.6,589.3,492.2,588.9,494.9,588.9C497.6,588.9,500.2,589.4,502.9,589.6C505.5,589.8,508.1,589.9,510.8,590.3C513.4,590.7,516.1,592.0,518.8,592.0C521.4,592.0,524.1,592.0,526.7,592.0C529.4,592.0,532.0,592.0,534.6,592.0C537.3,592.0,540.0,592.0,542.6,592.0C545.2,592.0,547.9,592.0,550.5,592.0C553.2,592.0,555.9,592.0,558.5,592.0C561.1,592.0,563.8,592.0,566.5,592.0C569.1,592.0,571.8,592.0,574.4,592.0C577.0,592.0,579.7,592.0,582.4,592.0C585.0,592.0,587.7,593.4,590.3,594.1C593.0,594.9,595.6,596.6,598.2,596.6C600.9,596.6,603.6,596.2,606.2,596.2C608.9,596.2,611.5,596.2,614.2,596.2C616.8,596.2,619.5,596.2,622.1,596.2C624.8,596.2,627.4,596.5,630.1,596.6C632.7,596.7,635.4,596.9,638.0,596.9C640.6,596.9,643.3,596.9,646.0,596.9C648.6,596.9,651.3,596.9,653.9,596.9C656.6,596.9,659.2,596.9,661.9,596.9C664.5,596.9,667.2,596.9,669.8,596.9C672.5,596.9,675.1,596.9,677.8,596.9C680.4,596.9,683.1,596.9,685.7,596.9C688.4,596.9,691.0,596.9,693.7,596.9C696.3,596.9,699.0,596.9,701.6,596.9C704.2,596.9,706.9,596.9,709.6,596.9C712.2,596.9,714.9,596.9,717.5,596.9C720.1,596.9,722.8,597.3,725.5,597.3C728.1,597.3,730.8,597.3,733.4,597.3C736.1,597.3,738.7,597.6,741.4,597.6C744.0,597.6,746.7,597.4,749.3,597.3C752.0,597.1,754.6,596.9,757.2,596.6C759.9,596.3,762.6,595.9,765.2,595.5C767.9,595.2,770.5,594.7,773.2,594.5C775.8,594.2,778.5,594.3,781.1,594.1C783.8,594.0,786.4,593.7,789.1,593.4C791.7,593.2,794.4,593.0,797.0,592.7C799.6,592.5,802.3,592.0,805.0,592.0C807.6,592.0,810.3,592.0,812.9,592.0C815.6,592.0,818.2,592.0,820.9,592.0C823.5,592.0,826.2,591.6,828.8,591.3C831.5,591.1,834.1,590.6,836.8,590.6C839.4,590.6,842.1,590.6,844.7,590.6C847.4,590.6,850.0,590.4,852.7,589.9C855.3,589.5,858.0,588.7,860.6,588.2C863.2,587.7,865.9,587.2,868.6,587.2C871.2,587.2,873.9,587.2,876.5,587.2C879.1,587.2,881.8,586.9,884.5,586.8C887.1,586.7,889.8,586.6,892.4,586.5C895.1,586.3,897.7,585.8,900.4,585.8C903.0,585.8,905.7,585.9,908.3,586.1C911.0,586.3,913.6,587.2,916.2,587.2C918.9,587.2,921.6,586.8,924.2,586.1C926.9,585.4,929.5,583.5,932.2,582.3C934.8,581.1,937.5,579.7,940.1,578.8C942.8,577.9,945.4,578.2,948.1,577.0C950.7,575.9,953.4,571.6,956.0,569.0C958.6,566.5,961.3,563.7,964.0,561.7C966.6,559.7,969.3,560.1,971.9,556.8C974.6,553.6,977.2,545.8,979.9,540.8C982.5,535.7,985.2,532.7,987.8,526.5C990.5,520.3,993.1,510.6,995.8,503.5C998.4,496.3,1001.1,489.4,1003.7,483.6C1006.4,477.9,1009.0,472.8,1011.7,469.0C1014.3,465.2,1017.0,465.1,1019.6,461.0C1022.2,456.8,1024.9,448.2,1027.5,444.2C1030.2,440.3,1032.8,441.9,1035.5,437.3C1038.2,432.6,1040.8,419.2,1043.5,412.9C1046.1,406.5,1048.8,402.6,1051.4,398.9C1054.0,395.2,1056.7,394.3,1059.3,390.5C1062.0,386.8,1064.6,380.0,1067.3,376.6C1070.0,373.2,1072.6,372.0,1075.2,370.3C1077.9,368.7,1080.5,367.7,1083.2,366.8C1085.8,366.0,1088.5,366.2,1091.1,365.4C1093.8,364.7,1096.4,363.1,1099.1,362.3C1101.8,361.6,1104.4,360.9,1107.0,360.9C1109.7,360.9,1112.3,370.2,1115.0,370.7C1117.7,371.1,1120.3,371.1,1123.0,371.4C1125.6,371.7,1128.2,372.4,1130.9,372.4C1133.5,372.4,1136.2,360.6,1138.8,360.6C1141.5,360.6,1144.1,364.0,1146.8,365.1C1149.5,366.2,1152.1,365.8,1154.8,367.2C1157.4,368.6,1160.0,378.3,1162.7,378.3C1165.3,378.3,1168.0,372.4,1170.6,366.5" stroke="#575757" /><g stroke="none" fill="#575757"><circle cx="65.6" cy="425.4" r="2.1"/><circle cx="73.5" cy="427.5" r="2.1"/><circle cx="81.5" cy="431.3" r="2.1"/><circle cx="89.4" cy="435.5" r="2.1"/><circle cx="97.4" cy="435.5" r="2.1"/><circle cx="105.3" cy="438.0" r="2.1"/><circle cx="113.3" cy="444.9" r="2.1"/><circle cx="121.2" cy="443.2" r="2.1"/><circle cx="129.2" cy="444.9" r="2.1"/><circle cx="137.1" cy="436.6" r="2.1"/><circle cx="145.1" cy="427.1" r="2.1"/><circle cx="153.1" cy="417.7" r="2.1"/><circle cx="161.0" cy="421.2" r="2.1"/><circle cx="168.9" cy="440.7" r="2.1"/><circle cx="176.9" cy="449.5" r="2.1"/><circle cx="184.8" cy="453.6" r="2.1"/><circle cx="192.8" cy="451.2" r="2.1"/><circle cx="200.8" cy="515.3" r="2.1"/><circle cx="208.7" cy="535.6" r="2.1"/><circle cx="216.7" cy="537.3" r="2.1"/><circle cx="224.6" cy="539.7" r="2.1"/><circle cx="232.6" cy="542.5" r="2.1"/><circle cx="240.5" cy="545.0" r="2.1"/><circle cx="248.4" cy="545.0" r="2.1"/><circle cx="256.4" cy="548.5" r="2.1"/><circle cx="264.4" cy="549.2" r="2.1"/><circle cx="272.3" cy="550.9" r="2.1"/><circle cx="280.2" cy="553.3" r="2.1"/><circle cx="288.2" cy="551.6" r="2.1"/><circle cx="296.1" cy="550.6" r="2.1"/><circle cx="304.1" cy="551.9" r="2.1"/><circle cx="312.1" cy="554.0" r="2.1"/><circle cx="320.0" cy="554.4" r="2.1"/><circle cx="328.0" cy="554.0" r="2.1"/><circle cx="335.9" cy="553.3" r="2.1"/><circle cx="343.9" cy="555.1" r="2.1"/><circle cx="351.8" cy="562.4" r="2.1"/><circle cx="359.8" cy="561.0" r="2.1"/><circle cx="367.7" cy="563.1" r="2.1"/><circle cx="375.6" cy="564.1" r="2.1"/><circle cx="383.6" cy="563.5" r="2.1"/><circle cx="391.5" cy="564.5" r="2.1"/><circle cx="399.5" cy="566.9" r="2.1"/><circle cx="407.5" cy="568.7" r="2.1"/><circle cx="415.4" cy="589.6" r="2.1"/><circle cx="423.4" cy="588.6" r="2.1"/><circle cx="431.3" cy="588.9" r="2.1"/><circle cx="439.2" cy="588.9" r="2.1"/><circle cx="447.2" cy="589.2" r="2.1"/><circle cx="455.1" cy="589.6" r="2.1"/><circle cx="463.1" cy="589.6" r="2.1"/><circle cx="471.0" cy="589.9" r="2.1"/><circle cx="479.0" cy="590.6" r="2.1"/><circle cx="487.0" cy="589.6" r="2.1"/><circle cx="494.9" cy="588.9" r="2.1"/><circle cx="502.9" cy="589.6" r="2.1"/><circle cx="510.8" cy="590.3" r="2.1"/><circle cx="518.8" cy="592.0" r="2.1"/><circle cx="526.7" cy="592.0" r="2.1"/><circle cx="534.6" cy="592.0" r="2.1"/><circle cx="542.6" cy="592.0" r="2.1"/><circle cx="550.5" cy="592.0" r="2.1"/><circle cx="558.5" cy="592.0" r="2.1"/><circle cx="566.5" cy="592.0" r="2.1"/><circle cx="574.4" cy="592.0" r="2.1"/><circle cx="582.4" cy="592.0" r="2.1"/><circle cx="590.3" cy="594.1" r="2.1"/><circle cx="598.2" cy="596.6" r="2.1"/><circle cx="606.2" cy="596.2" r="2.1"/><circle cx="614.2" cy="596.2" r="2.1"/><circle cx="622.1" cy="596.2" r="2.1"/><circle cx="630.1" cy="596.6" r="2.1"/><circle cx="638.0" cy="596.9" r="2.1"/><circle cx="646.0" cy="596.9" r="2.1"/><circle cx="653.9" cy="596.9" r="2.1"/><circle cx="661.9" cy="596.9" r="2.1"/><circle cx="669.8" cy="596.9" r="2.1"/><circle cx="677.8" cy="596.9" r="2.1"/><circle cx="685.7" cy="596.9" r="2.1"/><circle cx="693.7" cy="596.9" r="2.1"/><circle cx="701.6" cy="596.9" r="2.1"/><circle cx="709.6" cy="596.9" r="2.1"/><circle cx="717.5" cy="596.9" r="2.1"/><circle cx="725.5" cy="597.3" r="2.1"/><circle cx="733.4" cy="597.3" r="2.1"/><circle cx="741.4" cy="597.6" r="2.1"/><circle cx="749.3" cy="597.3" r="2.1"/><circle cx="757.2" cy="596.6" r="2.1"/><circle cx="765.2" cy="595.5" r="2.1"/><circle cx="773.2" cy="594.5" r="2.1"/><circle cx="781.1" cy="594.1" r="2.1"/><circle cx="789.1" cy="593.4" r="2.1"/><circle cx="797.0" cy="592.7" r="2.1"/><circle cx="805.0" cy="592.0" r="2.1"/><circle cx="812.9" cy="592.0" r="2.1"/><circle cx="820.9" cy="592.0" r="2.1"/><circle cx="828.8" cy="591.3" r="2.1"/><circle cx="836.8" cy="590.6" r="2.1"/><circle cx="844.7" cy="590.6" r="2.1"/><circle cx="852.7" cy="589.9" r="2.1"/><circle cx="860.6" cy="588.2" r="2.1"/><circle cx="868.6" cy="587.2" r="2.1"/><circle cx="876.5" cy="587.2" r="2.1"/><circle cx="884.5" cy="586.8" r="2.1"/><circle cx="892.4" cy="586.5" r="2.1"/><circle cx="900.4" cy="585.8" r="2.1"/><circle cx="908.3" cy="586.1" r="2.1"/><circle cx="916.2" cy="587.2" r="2.1"/><circle cx="924.2" cy="586.1" r="2.1"/><circle cx="932.2" cy="582.3" r="2.1"/><circle cx="940.1" cy="578.8" r="2.1"/><circle cx="948.1" cy="577.0" r="2.1"/><circle cx="956.0" cy="569.0" r="2.1"/><circle cx="964.0" cy="561.7" r="2.1"/><circle cx="971.9" cy="556.8" r="2.1"/><circle cx="979.9" cy="540.8" r="2.1"/><circle cx="987.8" cy="526.5" r="2.1"/><circle cx="995.8" cy="503.5" r="2.1"/><circle cx="1003.7" cy="483.6" r="2.1"/><circle cx="1011.7" cy="469.0" r="2.1"/><circle cx="1019.6" cy="461.0" r="2.1"/><circle cx="1027.5" cy="444.2" r="2.1"/><circle cx="1035.5" cy="437.3" r="2.1"/><circle cx="1043.5" cy="412.9" r="2.1"/><circle cx="1051.4" cy="398.9" r="2.1"/><circle cx="1059.3" cy="390.5" r="2.1"/><circle cx="1067.3" cy="376.6" r="2.1"/><circle cx="1075.2" cy="370.3" r="2.1"/><circle cx="1083.2" cy="366.8" r="2.1"/><circle cx="1091.1" cy="365.4" r="2.1"/><circle cx="1099.1" cy="362.3" r="2.1"/><circle cx="1107.0" cy="360.9" r="2.1"/><circle cx="1115.0" cy="370.7" r="2.1"/><circle cx="1123.0" cy="371.4" r="2.1"/><circle cx="1130.9" cy="372.4" r="2.1"/><circle cx="1138.8" cy="360.6" r="2.1"/><circle cx="1146.8" cy="365.1" r="2.1"/><circle cx="1154.8" cy="367.2" r="2.1"/><circle cx="1162.7" cy="378.3" r="2.1"/><circle cx="1170.6" cy="366.5" r="2.1"/></g><path d="M65.6,320.1C68.2,312.8,70.9,305.5,73.5,305.5C76.2,305.5,78.8,320.9,81.5,325.7C84.1,330.5,86.8,334.1,89.4,334.1C92.1,334.1,94.7,331.6,97.4,331.6C100.0,331.6,102.7,346.5,105.3,351.2C108.0,355.8,110.6,359.5,113.3,359.5C116.0,359.5,118.6,328.1,121.2,328.1C123.9,328.1,126.5,333.4,129.2,335.8C131.8,338.3,134.5,342.8,137.1,342.8C139.8,342.8,142.4,338.3,145.1,338.3C147.8,338.3,150.4,344.4,153.1,347.7C155.7,350.9,158.3,351.9,161.0,357.8C163.7,363.7,166.3,376.0,168.9,383.2C171.6,390.4,174.2,394.5,176.9,401.0C179.5,407.5,182.2,416.7,184.8,422.3C187.5,427.8,190.2,427.6,192.8,434.1C195.5,440.6,198.1,454.0,200.8,461.3C203.4,468.6,206.0,475.0,208.7,478.0C211.3,481.1,214.0,481.1,216.7,482.6C219.3,484.0,221.9,484.0,224.6,486.8C227.2,489.5,229.9,496.5,232.6,499.7C235.2,502.9,237.8,504.4,240.5,505.9C243.2,507.4,245.8,508.3,248.4,508.7C251.1,509.2,253.7,509.0,256.4,509.4C259.1,509.8,261.7,510.6,264.4,511.2C267.0,511.7,269.7,512.3,272.3,512.9C274.9,513.5,277.6,514.6,280.2,514.6C282.9,514.6,285.6,513.1,288.2,511.9C290.8,510.6,293.5,507.3,296.1,507.3C298.8,507.3,301.4,508.7,304.1,508.7C306.8,508.7,309.4,507.0,312.1,507.0C314.7,507.0,317.4,508.0,320.0,508.4C322.7,508.8,325.3,509.0,328.0,509.4C330.6,509.9,333.2,511.2,335.9,511.2C338.6,511.2,341.2,511.2,343.9,511.2C346.5,511.2,349.1,534.9,351.8,534.9C354.4,534.9,357.1,532.4,359.8,532.4C362.4,532.4,365.1,532.5,367.7,532.8C370.4,533.0,373.0,533.6,375.6,533.8C378.3,534.1,380.9,534.0,383.6,534.2C386.2,534.3,388.9,534.6,391.5,534.9C394.2,535.1,396.8,535.3,399.5,535.6C402.2,535.8,404.8,535.8,407.5,536.3C410.1,536.7,412.8,548.2,415.4,549.2C418.1,550.1,420.7,550.0,423.4,550.6C426.0,551.1,428.6,552.6,431.3,552.6C433.9,552.6,436.6,552.6,439.2,552.6C441.9,552.6,444.6,551.6,447.2,551.6C449.9,551.6,452.5,551.8,455.1,551.9C457.8,552.1,460.4,552.3,463.1,552.3C465.8,552.3,468.4,552.3,471.0,552.3C473.7,552.3,476.3,552.3,479.0,552.3C481.7,552.3,484.3,552.6,487.0,552.6C489.6,552.6,492.2,552.6,494.9,552.6C497.6,552.6,500.2,553.1,502.9,553.3C505.5,553.6,508.1,553.9,510.8,554.0C513.4,554.2,516.1,554.2,518.8,554.4C521.4,554.6,524.1,554.9,526.7,555.1C529.4,555.3,532.0,555.4,534.6,555.4C537.3,555.4,540.0,555.1,542.6,555.1C545.2,555.1,547.9,555.3,550.5,555.4C553.2,555.5,555.9,555.5,558.5,555.8C561.1,556.0,563.8,556.4,566.5,556.8C569.1,557.3,571.8,558.6,574.4,558.6C577.0,558.6,579.7,558.6,582.4,558.6C585.0,558.6,587.7,564.4,590.3,566.9C593.0,569.4,595.6,571.5,598.2,573.6C600.9,575.7,603.6,579.5,606.2,579.5C608.9,579.5,611.5,579.5,614.2,579.5C616.8,579.5,619.5,586.3,622.1,588.6C624.8,590.8,627.4,592.0,630.1,593.1C632.7,594.1,635.4,594.1,638.0,594.8C640.6,595.5,643.3,597.3,646.0,597.3C648.6,597.3,651.3,597.3,653.9,597.3C656.6,597.3,659.2,597.0,661.9,596.9C664.5,596.8,667.2,596.6,669.8,596.6C672.5,596.6,675.1,597.3,677.8,597.3C680.4,597.3,683.1,596.5,685.7,596.2C688.4,595.9,691.0,595.5,693.7,595.5C696.3,595.5,699.0,595.5,701.6,595.5C704.2,595.5,706.9,595.5,709.6,595.5C712.2,595.5,714.9,595.3,717.5,595.2C720.1,595.1,722.8,595.1,725.5,594.8C728.1,594.6,730.8,593.9,733.4,593.4C736.1,593.0,738.7,592.5,741.4,592.0C744.0,591.6,746.7,591.1,749.3,590.6C752.0,590.2,754.6,589.7,757.2,589.2C759.9,588.8,762.6,588.5,765.2,587.9C767.9,587.2,770.5,586.1,773.2,585.4C775.8,584.7,778.5,584.1,781.1,583.7C783.8,583.3,786.4,583.0,789.1,583.0C791.7,583.0,794.4,583.7,797.0,583.7C799.6,583.7,802.3,583.7,805.0,583.7C807.6,583.7,810.3,582.0,812.9,581.2C815.6,580.4,818.2,579.3,820.9,578.8C823.5,578.3,826.2,578.4,828.8,578.1C831.5,577.8,834.1,577.6,836.8,577.0C839.4,576.5,842.1,574.6,844.7,574.6C847.4,574.6,850.0,574.6,852.7,574.6C855.3,574.6,858.0,573.6,860.6,573.2C863.2,572.9,865.9,572.8,868.6,572.5C871.2,572.2,873.9,571.5,876.5,571.5C879.1,571.5,881.8,572.2,884.5,572.2C887.1,572.2,889.8,565.3,892.4,563.5C895.1,561.6,897.7,561.4,900.4,560.7C903.0,560.0,905.7,560.2,908.3,559.3C911.0,558.3,913.6,554.0,916.2,554.0C918.9,554.0,921.6,556.1,924.2,556.1C926.9,556.1,929.5,554.6,932.2,554.0C934.8,553.5,937.5,552.6,940.1,552.6C942.8,552.6,945.4,552.6,948.1,552.6C950.7,552.6,953.4,552.4,956.0,552.3C958.6,552.2,961.3,552.2,964.0,551.9C966.6,551.7,969.3,550.9,971.9,550.9C974.6,550.9,977.2,551.9,979.9,551.9C982.5,551.9,985.2,547.9,987.8,547.4C990.5,547.0,993.1,547.2,995.8,546.7C998.4,546.3,1001.1,542.8,1003.7,541.5C1006.4,540.2,1009.0,540.0,1011.7,539.0C1014.3,538.1,1017.0,536.6,1019.6,535.9C1022.2,535.2,1024.9,535.6,1027.5,534.9C1030.2,534.2,1032.8,530.1,1035.5,528.9C1038.2,527.8,1040.8,528.4,1043.5,527.2C1046.1,526.0,1048.8,521.2,1051.4,518.8C1054.0,516.4,1056.7,514.8,1059.3,512.9C1062.0,511.0,1064.6,510.3,1067.3,507.7C1070.0,505.0,1072.6,500.3,1075.2,496.9C1077.9,493.4,1080.5,489.4,1083.2,487.1C1085.8,484.8,1088.5,483.9,1091.1,482.9C1093.8,481.9,1096.4,481.2,1099.1,481.2C1101.8,481.2,1104.4,481.2,1107.0,481.2C1109.7,481.2,1112.3,480.5,1115.0,480.5C1117.7,480.5,1120.3,481.5,1123.0,481.5C1125.6,481.5,1128.2,480.8,1130.9,479.8C1133.5,478.7,1136.2,475.7,1138.8,475.3C1141.5,474.8,1144.1,474.8,1146.8,474.6C1149.5,474.3,1152.1,473.5,1154.8,473.5C1157.4,473.5,1160.0,475.3,1162.7,475.3C1165.3,475.3,1168.0,473.2,1170.6,471.1" stroke="#fa8c00" /><g stroke="none" fill="#fa8c00"><circle cx="65.6" cy="320.1" r="2.1"/><circle cx="73.5" cy="305.5" r="2.1"/><circle cx="81.5" cy="325.7" r="2.1"/><circle cx="89.4" cy="334.1" r="2.1"/><circle cx="97.4" cy="331.6" r="2.1"/><circle cx="105.3" cy="351.2" r="2.1"/><circle cx="113.3" cy="359.5" r="2.1"/><circle cx="121.2" cy="328.1" r="2.1"/><circle cx="129.2" cy="335.8" r="2.1"/><circle cx="137.1" cy="342.8" r="2.1"/><circle cx="145.1" cy="338.3" r="2.1"/><circle cx="153.1" cy="347.7" r="2.1"/><circle cx="161.0" cy="357.8" r="2.1"/><circle cx="168.9" cy="383.2" r="2.1"/><circle cx="176.9" cy="401.0" r="2.1"/><circle cx="184.8" cy="422.3" r="2.1"/><circle cx="192.8" cy="434.1" r="2.1"/><circle cx="200.8" cy="461.3" r="2.1"/><circle cx="208.7" cy="478.0" r="2.1"/><circle cx="216.7" cy="482.6" r="2.1"/><circle cx="224.6" cy="486.8" r="2.1"/><circle cx="232.6" cy="499.7" r="2.1"/><circle cx="240.5" cy="505.9" r="2.1"/><circle cx="248.4" cy="508.7" r="2.1"/><circle cx="256.4" cy="509.4" r="2.1"/><circle cx="264.4" cy="511.2" r="2.1"/><circle cx="272.3" cy="512.9" r="2.1"/><circle cx="280.2" cy="514.6" r="2.1"/><circle cx="288.2" cy="511.9" r="2.1"/><circle cx="296.1" cy="507.3" r="2.1"/><circle cx="304.1" cy="508.7" r="2.1"/><circle cx="312.1" cy="507.0" r="2.1"/><circle cx="320.0" cy="508.4" r="2.1"/><circle cx="328.0" cy="509.4" r="2.1"/><circle cx="335.9" cy="511.2" r="2.1"/><circle cx="343.9" cy="511.2" r="2.1"/><circle cx="351.8" cy="534.9" r="2.1"/><circle cx="359.8" cy="532.4" r="2.1"/><circle cx="367.7" cy="532.8" r="2.1"/><circle cx="375.6" cy="533.8" r="2.1"/><circle cx="383.6" cy="534.2" r="2.1"/><circle cx="391.5" cy="534.9" r="2.1"/><circle cx="399.5" cy="535.6" r="2.1"/><circle cx="407.5" cy="536.3" r="2.1"/><circle cx="415.4" cy="549.2" r="2.1"/><circle cx="423.4" cy="550.6" r="2.1"/><circle cx="431.3" cy="552.6" r="2.1"/><circle cx="439.2" cy="552.6" r="2.1"/><circle cx="447.2" cy="551.6" r="2.1"/><circle cx="455.1" cy="551.9" r="2.1"/><circle cx="463.1" cy="552.3" r="2.1"/><circle cx="471.0" cy="552.3" r="2.1"/><circle cx="479.0" cy="552.3" r="2.1"/><circle cx="487.0" cy="552.6" r="2.1"/><circle cx="494.9" cy="552.6" r="2.1"/><circle cx="502.9" cy="553.3" r="2.1"/><circle cx="510.8" cy="554.0" r="2.1"/><circle cx="518.8" cy="554.4" r="2.1"/><circle cx="526.7" cy="555.1" r="2.1"/><circle cx="534.6" cy="555.4" r="2.1"/><circle cx="542.6" cy="555.1" r="2.1"/><circle cx="550.5" cy="555.4" r="2.1"/><circle cx="558.5" cy="555.8" r="2.1"/><circle cx="566.5" cy="556.8" r="2.1"/><circle cx="574.4" cy="558.6" r="2.1"/><circle cx="582.4" cy="558.6" r="2.1"/><circle cx="590.3" cy="566.9" r="2.1"/><circle cx="598.2" cy="573.6" r="2.1"/><circle cx="606.2" cy="579.5" r="2.1"/><circle cx="614.2" cy="579.5" r="2.1"/><circle cx="622.1" cy="588.6" r="2.1"/><circle cx="630.1" cy="593.1" r="2.1"/><circle cx="638.0" cy="594.8" r="2.1"/><circle cx="646.0" cy="597.3" r="2.1"/><circle cx="653.9" cy="597.3" r="2.1"/><circle cx="661.9" cy="596.9" r="2.1"/><circle cx="669.8" cy="596.6" r="2.1"/><circle cx="677.8" cy="597.3" r="2.1"/><circle cx="685.7" cy="596.2" r="2.1"/><circle cx="693.7" cy="595.5" r="2.1"/><circle cx="701.6" cy="595.5" r="2.1"/><circle cx="709.6" cy="595.5" r="2.1"/><circle cx="717.5" cy="595.2" r="2.1"/><circle cx="725.5" cy="594.8" r="2.1"/><circle cx="733.4" cy="593.4" r="2.1"/><circle cx="741.4" cy="592.0" r="2.1"/><circle cx="749.3" cy="590.6" r="2.1"/><circle cx="757.2" cy="589.2" r="2.1"/><circle cx="765.2" cy="587.9" r="2.1"/><circle cx="773.2" cy="585.4" r="2.1"/><circle cx="781.1" cy="583.7" r="2.1"/><circle cx="789.1" cy="583.0" r="2.1"/><circle cx="797.0" cy="583.7" r="2.1"/><circle cx="805.0" cy="583.7" r="2.1"/><circle cx="812.9" cy="581.2" r="2.1"/><circle cx="820.9" cy="578.8" r="2.1"/><circle cx="828.8" cy="578.1" r="2.1"/><circle cx="836.8" cy="577.0" r="2.1"/><circle cx="844.7" cy="574.6" r="2.1"/><circle cx="852.7" cy="574.6" r="2.1"/><circle cx="860.6" cy="573.2" r="2.1"/><circle cx="868.6" cy="572.5" r="2.1"/><circle cx="876.5" cy="571.5" r="2.1"/><circle cx="884.5" cy="572.2" r="2.1"/><circle cx="892.4" cy="563.5" r="2.1"/><circle cx="900.4" cy="560.7" r="2.1"/><circle cx="908.3" cy="559.3" r="2.1"/><circle cx="916.2" cy="554.0" r="2.1"/><circle cx="924.2" cy="556.1" r="2.1"/><circle cx="932.2" cy="554.0" r="2.1"/><circle cx="940.1" cy="552.6" r="2.1"/><circle cx="948.1" cy="552.6" r="2.1"/><circle cx="956.0" cy="552.3" r="2.1"/><circle cx="964.0" cy="551.9" r="2.1"/><circle cx="971.9" cy="550.9" r="2.1"/><circle cx="979.9" cy="551.9" r="2.1"/><circle cx="987.8" cy="547.4" r="2.1"/><circle cx="995.8" cy="546.7" r="2.1"/><circle cx="1003.7" cy="541.5" r="2.1"/><circle cx="1011.7" cy="539.0" r="2.1"/><circle cx="1019.6" cy="535.9" r="2.1"/><circle cx="1027.5" cy="534.9" r="2.1"/><circle cx="1035.5" cy="528.9" r="2.1"/><circle cx="1043.5" cy="527.2" r="2.1"/><circle cx="1051.4" cy="518.8" r="2.1"/><circle cx="1059.3" cy="512.9" r="2.1"/><circle cx="1067.3" cy="507.7" r="2.1"/><circle cx="1075.2" cy="496.9" r="2.1"/><circle cx="1083.2" cy="487.1" r="2.1"/><circle cx="1091.1" cy="482.9" r="2.1"/><circle cx="1099.1" cy="481.2" r="2.1"/><circle cx="1107.0" cy="481.2" r="2.1"/><circle cx="1115.0" cy="480.5" r="2.1"/><circle cx="1123.0" cy="481.5" r="2.1"/><circle cx="1130.9" cy="479.8" r="2.1"/><circle cx="1138.8" cy="475.3" r="2.1"/><circle cx="1146.8" cy="474.6" r="2.1"/><circle cx="1154.8" cy="473.5" r="2.1"/><circle cx="1162.7" cy="475.3" r="2.1"/><circle cx="1170.6" cy="471.1" r="2.1"/></g><path d="M65.6,295.0C68.2,303.3,70.9,311.6,73.5,315.6C76.2,319.5,78.8,319.7,81.5,321.5C84.1,323.3,86.8,324.7,89.4,326.4C92.1,328.1,94.7,328.9,97.4,331.6C100.0,334.4,102.7,337.0,105.3,342.8C108.0,348.6,110.6,362.8,113.3,366.5C116.0,370.2,118.6,370.2,121.2,372.1C123.9,373.9,126.5,377.6,129.2,377.6C131.8,377.6,134.5,368.9,137.1,368.9C139.8,368.9,142.4,373.0,145.1,374.9C147.8,376.7,150.4,377.8,153.1,380.1C155.7,382.4,158.3,382.9,161.0,388.5C163.7,394.0,166.3,417.0,168.9,417.0C171.6,417.0,174.2,416.3,176.9,416.3C179.5,416.3,182.2,418.4,184.8,420.5C187.5,422.7,190.2,423.4,192.8,429.2C195.5,435.1,198.1,473.4,200.8,486.1C203.4,498.7,206.0,505.2,208.7,505.2C211.3,505.2,214.0,505.1,216.7,504.9C219.3,504.7,221.9,503.3,224.6,502.8C227.2,502.3,229.9,501.7,232.6,501.7C235.2,501.7,237.8,510.1,240.5,513.6C243.2,517.1,245.8,521.9,248.4,523.0C251.1,524.2,253.7,524.1,256.4,524.8C259.1,525.5,261.7,526.4,264.4,527.2C267.0,528.0,269.7,529.6,272.3,529.6C274.9,529.6,277.6,529.3,280.2,529.3C282.9,529.3,285.6,529.8,288.2,530.7C290.8,531.6,293.5,534.2,296.1,535.6C298.8,537.0,301.4,537.9,304.1,539.0C306.8,540.2,309.4,542.1,312.1,542.5C314.7,543.0,317.4,542.9,320.0,543.2C322.7,543.6,325.3,544.0,328.0,544.6C330.6,545.2,333.2,545.7,335.9,546.7C338.6,547.8,341.2,549.8,343.9,550.9C346.5,552.0,349.1,552.5,351.8,553.3C354.4,554.2,357.1,555.1,359.8,556.1C362.4,557.1,365.1,558.6,367.7,559.3C370.4,560.0,373.0,560.0,375.6,560.3C378.3,560.7,380.9,561.0,383.6,561.4C386.2,561.7,388.9,561.8,391.5,562.4C394.2,563.0,396.8,565.2,399.5,565.2C402.2,565.2,404.8,565.2,407.5,565.2C410.1,565.2,412.8,565.0,415.4,564.8C418.1,564.7,420.7,564.4,423.4,564.1C426.0,563.9,428.6,563.5,431.3,563.5C433.9,563.5,436.6,563.5,439.2,563.5C441.9,563.5,444.6,563.5,447.2,563.5C449.9,563.5,452.5,563.5,455.1,563.5C457.8,563.5,460.4,563.5,463.1,563.5C465.8,563.5,468.4,563.5,471.0,563.5C473.7,563.5,476.3,563.1,479.0,563.1C481.7,563.1,484.3,563.1,487.0,563.1C489.6,563.1,492.2,563.3,494.9,563.5C497.6,563.6,500.2,564.1,502.9,564.1C505.5,564.1,508.1,563.8,510.8,563.8C513.4,563.8,516.1,564.3,518.8,565.2C521.4,566.1,524.1,571.8,526.7,573.2C529.4,574.6,532.0,575.1,534.6,575.3C537.3,575.5,540.0,575.5,542.6,575.7C545.2,575.8,547.9,576.1,550.5,576.3C553.2,576.6,555.9,577.0,558.5,577.0C561.1,577.0,563.8,577.0,566.5,577.0C569.1,577.0,571.8,575.3,574.4,575.3C577.0,575.3,579.7,576.5,582.4,577.7C585.0,579.0,587.7,581.1,590.3,582.6C593.0,584.2,595.6,585.7,598.2,587.2C600.9,588.6,603.6,590.4,606.2,591.3C608.9,592.3,611.5,592.7,614.2,592.7C616.8,592.7,619.5,592.7,622.1,592.7C624.8,592.7,627.4,593.1,630.1,593.1C632.7,593.1,635.4,592.0,638.0,592.0C640.6,592.0,643.3,592.7,646.0,593.1C648.6,593.5,651.3,594.5,653.9,594.5C656.6,594.5,659.2,593.1,661.9,592.7C664.5,592.3,667.2,592.0,669.8,592.0C672.5,592.0,675.1,592.0,677.8,592.0C680.4,592.0,683.1,591.9,685.7,591.7C688.4,591.5,691.0,591.3,693.7,591.0C696.3,590.7,699.0,589.9,701.6,589.9C704.2,589.9,706.9,590.8,709.6,591.0C712.2,591.2,714.9,591.3,717.5,591.3C720.1,591.3,722.8,589.8,725.5,589.2C728.1,588.7,730.8,588.2,733.4,587.9C736.1,587.5,738.7,587.4,741.4,587.2C744.0,586.9,746.7,586.8,749.3,586.1C752.0,585.4,754.6,583.9,757.2,583.0C759.9,582.0,762.6,581.0,765.2,580.5C767.9,580.1,770.5,580.3,773.2,579.8C775.8,579.4,778.5,578.4,781.1,577.7C783.8,577.0,786.4,576.2,789.1,575.7C791.7,575.1,794.4,575.2,797.0,574.3C799.6,573.3,802.3,571.8,805.0,570.1C807.6,568.4,810.3,565.8,812.9,564.1C815.6,562.5,818.2,562.2,820.9,560.0C823.5,557.8,826.2,552.1,828.8,550.9C831.5,549.7,834.1,550.1,836.8,549.2C839.4,548.2,842.1,545.0,844.7,545.0C847.4,545.0,850.0,547.1,852.7,547.1C855.3,547.1,858.0,544.6,860.6,539.7C863.2,534.9,865.9,523.0,868.6,515.7C871.2,508.4,873.9,503.4,876.5,496.2C879.1,489.0,881.8,478.5,884.5,472.5C887.1,466.4,889.8,465.3,892.4,459.9C895.1,454.5,897.7,448.0,900.4,440.0C903.0,432.1,905.7,421.2,908.3,412.2C911.0,403.1,913.6,394.7,916.2,385.7C918.9,376.6,921.6,367.0,924.2,357.8C926.9,348.5,929.5,339.2,932.2,330.2C934.8,321.3,937.5,312.4,940.1,304.1C942.8,295.8,945.4,286.7,948.1,280.4C950.7,274.1,953.4,273.6,956.0,266.4C958.6,259.2,961.3,246.1,964.0,237.2C966.6,228.2,969.3,219.7,971.9,212.8C974.6,205.8,977.2,200.7,979.9,195.3C982.5,190.0,985.2,184.8,987.8,180.7C990.5,176.6,993.1,171.7,995.8,170.6C998.4,169.4,1001.1,170.0,1003.7,168.8C1006.4,167.7,1009.0,160.5,1011.7,157.0C1014.3,153.4,1017.0,151.9,1019.6,147.6C1022.2,143.2,1024.9,135.2,1027.5,130.8C1030.2,126.5,1032.8,122.6,1035.5,121.4C1038.2,120.3,1040.8,120.5,1043.5,119.7C1046.1,118.9,1048.8,117.8,1051.4,116.5C1054.0,115.3,1056.7,112.0,1059.3,112.0C1062.0,112.0,1064.6,118.6,1067.3,118.6C1070.0,118.6,1072.6,111.4,1075.2,108.2C1077.9,104.9,1080.5,101.2,1083.2,99.1C1085.8,97.0,1088.5,95.6,1091.1,95.6C1093.8,95.6,1096.4,104.7,1099.1,104.7C1101.8,104.7,1104.4,101.6,1107.0,101.6C1109.7,101.6,1112.3,108.9,1115.0,108.9C1117.7,108.9,1120.3,105.4,1123.0,105.4C1125.6,105.4,1128.2,110.0,1130.9,111.0C1133.5,111.9,1136.2,111.4,1138.8,112.4C1141.5,113.3,1144.1,128.5,1146.8,134.3C1149.5,140.1,1152.1,145.8,1154.8,147.2C1157.4,148.6,1160.0,147.9,1162.7,149.3C1165.3,150.7,1168.0,158.9,1170.6,167.1" stroke="#c71e1d" /><g stroke="none" fill="#c71e1d"><circle cx="65.6" cy="295.0" r="2.1"/><circle cx="73.5" cy="315.6" r="2.1"/><circle cx="81.5" cy="321.5" r="2.1"/><circle cx="89.4" cy="326.4" r="2.1"/><circle cx="97.4" cy="331.6" r="2.1"/><circle cx="105.3" cy="342.8" r="2.1"/><circle cx="113.3" cy="366.5" r="2.1"/><circle cx="121.2" cy="372.1" r="2.1"/><circle cx="129.2" cy="377.6" r="2.1"/><circle cx="137.1" cy="368.9" r="2.1"/><circle cx="145.1" cy="374.9" r="2.1"/><circle cx="153.1" cy="380.1" r="2.1"/><circle cx="161.0" cy="388.5" r="2.1"/><circle cx="168.9" cy="417.0" r="2.1"/><circle cx="176.9" cy="416.3" r="2.1"/><circle cx="184.8" cy="420.5" r="2.1"/><circle cx="192.8" cy="429.2" r="2.1"/><circle cx="200.8" cy="486.1" r="2.1"/><circle cx="208.7" cy="505.2" r="2.1"/><circle cx="216.7" cy="504.9" r="2.1"/><circle cx="224.6" cy="502.8" r="2.1"/><circle cx="232.6" cy="501.7" r="2.1"/><circle cx="240.5" cy="513.6" r="2.1"/><circle cx="248.4" cy="523.0" r="2.1"/><circle cx="256.4" cy="524.8" r="2.1"/><circle cx="264.4" cy="527.2" r="2.1"/><circle cx="272.3" cy="529.6" r="2.1"/><circle cx="280.2" cy="529.3" r="2.1"/><circle cx="288.2" cy="530.7" r="2.1"/><circle cx="296.1" cy="535.6" r="2.1"/><circle cx="304.1" cy="539.0" r="2.1"/><circle cx="312.1" cy="542.5" r="2.1"/><circle cx="320.0" cy="543.2" r="2.1"/><circle cx="328.0" cy="544.6" r="2.1"/><circle cx="335.9" cy="546.7" r="2.1"/><circle cx="343.9" cy="550.9" r="2.1"/><circle cx="351.8" cy="553.3" r="2.1"/><circle cx="359.8" cy="556.1" r="2.1"/><circle cx="367.7" cy="559.3" r="2.1"/><circle cx="375.6" cy="560.3" r="2.1"/><circle cx="383.6" cy="561.4" r="2.1"/><circle cx="391.5" cy="562.4" r="2.1"/><circle cx="399.5" cy="565.2" r="2.1"/><circle cx="407.5" cy="565.2" r="2.1"/><circle cx="415.4" cy="564.8" r="2.1"/><circle cx="423.4" cy="564.1" r="2.1"/><circle cx="431.3" cy="563.5" r="2.1"/><circle cx="439.2" cy="563.5" r="2.1"/><circle cx="447.2" cy="563.5" r="2.1"/><circle cx="455.1" cy="563.5" r="2.1"/><circle cx="463.1" cy="563.5" r="2.1"/><circle cx="471.0" cy="563.5" r="2.1"/><circle cx="479.0" cy="563.1" r="2.1"/><circle cx="487.0" cy="563.1" r="2.1"/><circle cx="494.9" cy="563.5" r="2.1"/><circle cx="502.9" cy="564.1" r="2.1"/><circle cx="510.8" cy="563.8" r="2.1"/><circle cx="518.8" cy="565.2" r="2.1"/><circle cx="526.7" cy="573.2" r="2.1"/><circle cx="534.6" cy="575.3" r="2.1"/><circle cx="542.6" cy="575.7" r="2.1"/><circle cx="550.5" cy="576.3" r="2.1"/><circle cx="558.5" cy="577.0" r="2.1"/><circle cx="566.5" cy="577.0" r="2.1"/><circle cx="574.4" cy="575.3" r="2.1"/><circle cx="582.4" cy="577.7" r="2.1"/><circle cx="590.3" cy="582.6" r="2.1"/><circle cx="598.2" cy="587.2" r="2.1"/><circle cx="606.2" cy="591.3" r="2.1"/><circle cx="614.2" cy="592.7" r="2.1"/><circle cx="622.1" cy="592.7" r="2.1"/><circle cx="630.1" cy="593.1" r="2.1"/><circle cx="638.0" cy="592.0" r="2.1"/><circle cx="646.0" cy="593.1" r="2.1"/><circle cx="653.9" cy="594.5" r="2.1"/><circle cx="661.9" cy="592.7" r="2.1"/><circle cx="669.8" cy="592.0" r="2.1"/><circle cx="677.8" cy="592.0" r="2.1"/><circle cx="685.7" cy="591.7" r="2.1"/><circle cx="693.7" cy="591.0" r="2.1"/><circle cx="701.6" cy="589.9" r="2.1"/><circle cx="709.6" cy="591.0" r="2.1"/><circle cx="717.5" cy="591.3" r="2.1"/><circle cx="725.5" cy="589.2" r="2.1"/><circle cx="733.4" cy="587.9" r="2.1"/><circle cx="741.4" cy="587.2" r="2.1"/><circle cx="749.3" cy="586.1" r="2.1"/><circle cx="757.2" cy="583.0" r="2.1"/><circle cx="765.2" cy="580.5" r="2.1"/><circle cx="773.2" cy="579.8" r="2.1"/><circle cx="781.1" cy="577.7" r="2.1"/><circle cx="789.1" cy="575.7" r="2.1"/><circle cx="797.0" cy="574.3" r="2.1"/><circle cx="805.0" cy="570.1" r="2.1"/><circle cx="812.9" cy="564.1" r="2.1"/><circle cx="820.9" cy="560.0" r="2.1"/><circle cx="828.8" cy="550.9" r="2.1"/><circle cx="836.8" cy="549.2" r="2.1"/><circle cx="844.7" cy="545.0" r="2.1"/><circle cx="852.7" cy="547.1" r="2.1"/><circle cx="860.6" cy="539.7" r="2.1"/><circle cx="868.6" cy="515.7" r="2.1"/><circle cx="876.5" cy="496.2" r="2.1"/><circle cx="884.5" cy="472.5" r="2.1"/><circle cx="892.4" cy="459.9" r="2.1"/><circle cx="900.4" cy="440.0" r="2.1"/><circle cx="908.3" cy="412.2" r="2.1"/><circle cx="916.2" cy="385.7" r="2.1"/><circle cx="924.2" cy="357.8" r="2.1"/><circle cx="932.2" cy="330.2" r="2.1"/><circle cx="940.1" cy="304.1" r="2.1"/><circle cx="948.1" cy="280.4" r="2.1"/><circle cx="956.0" cy="266.4" r="2.1"/><circle cx="964.0" cy="237.2" r="2.1"/><circle cx="971.9" cy="212.8" r="2.1"/><circle cx="979.9" cy="195.3" r="2.1"/><circle cx="987.8" cy="180.7" r="2.1"/><circle cx="995.8" cy="170.6" r="2.1"/><circle cx="1003.7" cy="168.8" r="2.1"/><circle cx="1011.7" cy="157.0" r="2.1"/><circle cx="1019.6" cy="147.6" r="2.1"/><circle cx="1027.5" cy="130.8" r="2.1"/><circle cx="1035.5" cy="121.4" r="2.1"/><circle cx="1043.5" cy="119.7" r="2.1"/><circle cx="1051.4" cy="116.5" r="2.1"/><circle cx="1059.3" cy="112.0" r="2.1"/><circle cx="1067.3" cy="118.6" r="2.1"/><circle cx="1075.2" cy="108.2" r="2.1"/><circle cx="1083.2" cy="99.1" r="2.1"/><circle cx="1091.1" cy="95.6" r="2.1"/><circle cx="1099.1" cy="104.7" r="2.1"/><circle cx="1107.0" cy="101.6" r="2.1"/><circle cx="1115.0" cy="108.9" r="2.1"/><circle cx="1123.0" cy="105.4" r="2.1"/><circle cx="1130.9" cy="111.0" r="2.1"/><circle cx="1138.8" cy="112.4" r="2.1"/><circle cx="1146.8" cy="134.3" r="2.1"/><circle cx="1154.8" cy="147.2" r="2.1"/><circle cx="1162.7" cy="149.3" r="2.1"/><circle cx="1170.6" cy="167.1" r="2.1"/></g></g>
</svg>
<div class="note">Datos a partir del 1 de junio para facilitar la claridad de las líneas de cada área</div>
<div class="src">Chart: WWW.GALICIAPRESS.ES • Source: Consellería de Sanidade • Created with Datawrapper</div>
</body></html>
